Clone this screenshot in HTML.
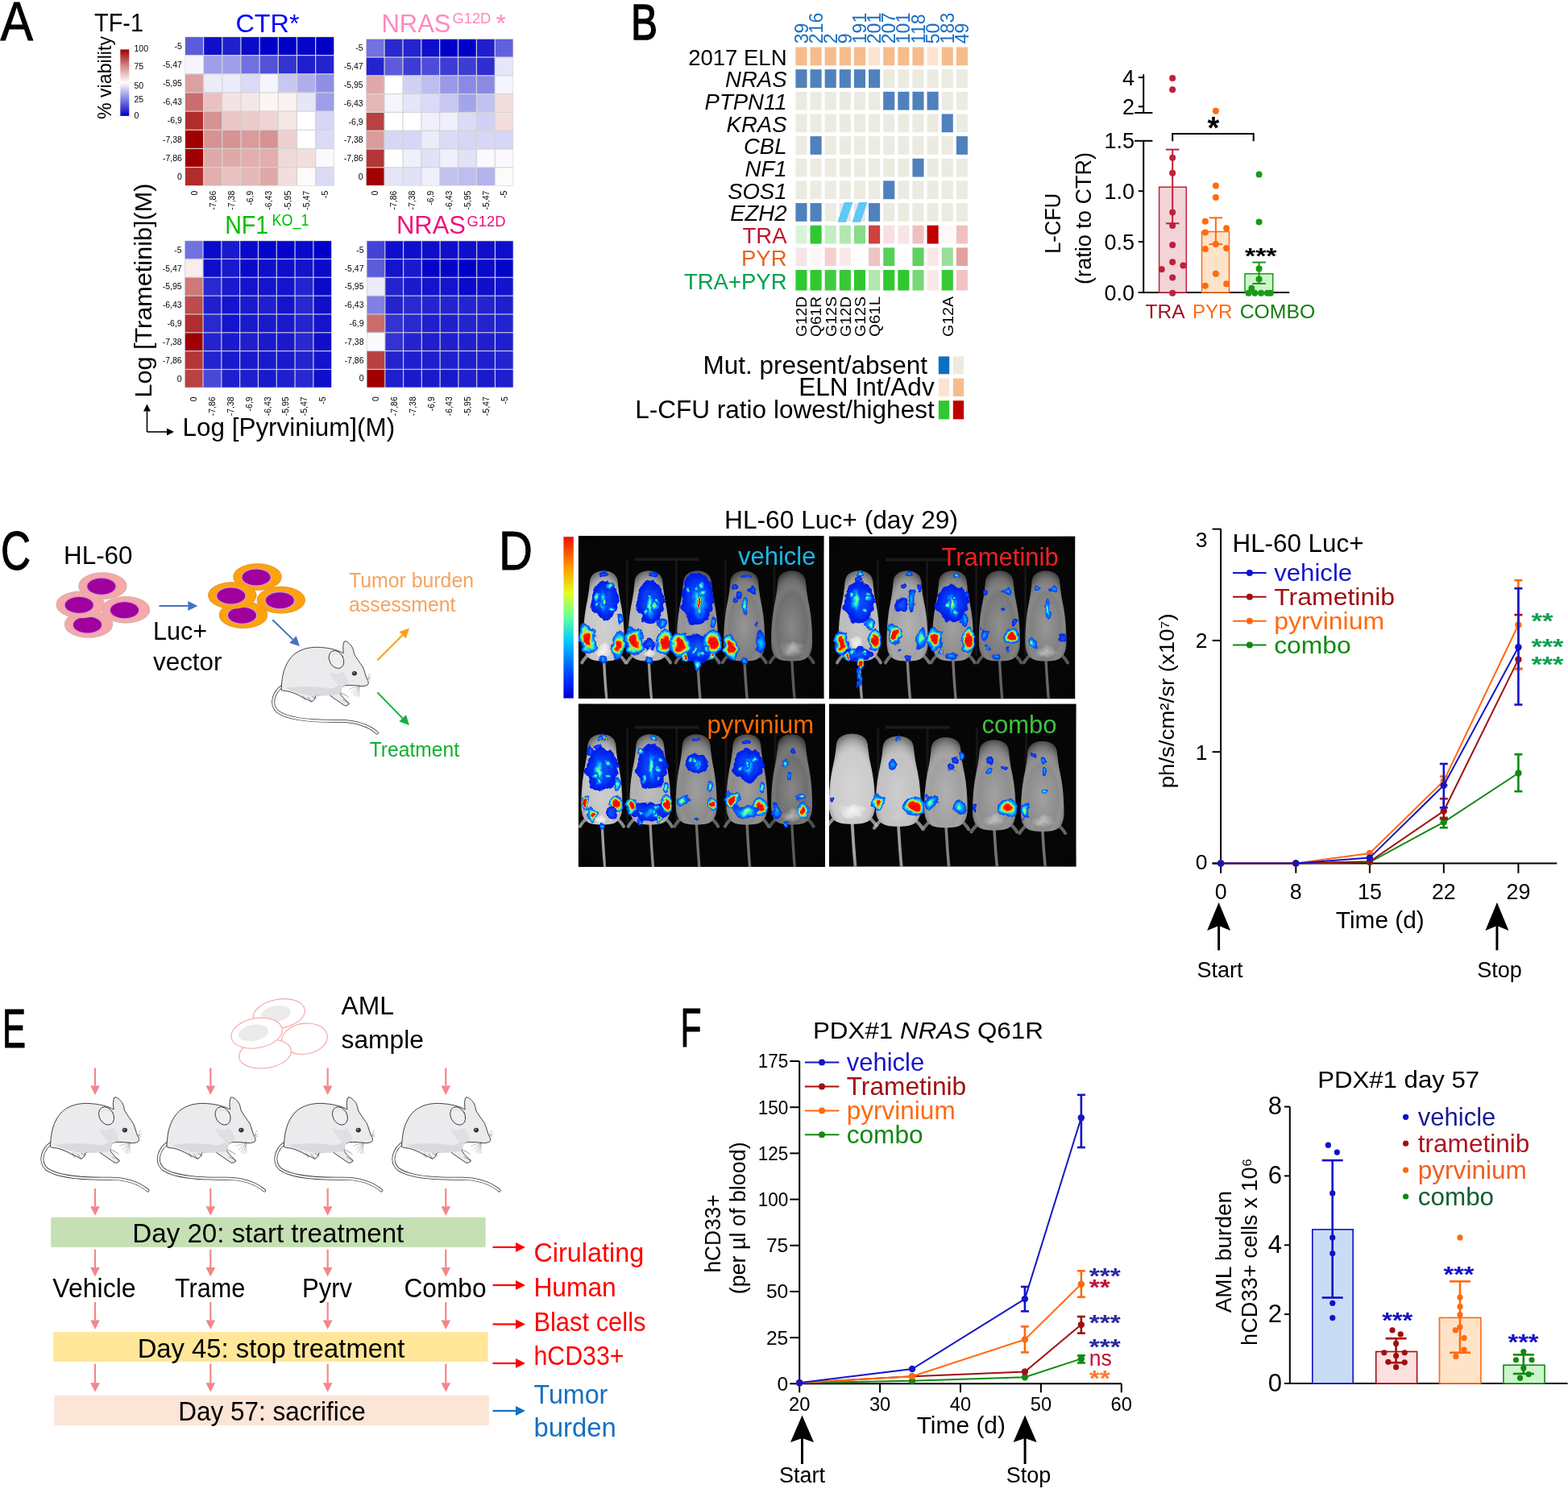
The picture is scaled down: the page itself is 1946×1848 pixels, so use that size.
<!DOCTYPE html>
<html><head><meta charset="utf-8"><title>Figure</title>
<style>html,body{margin:0;padding:0;background:#fff;width:1946px;height:1848px;overflow:hidden}
svg{display:block}</style></head>
<body>
<svg width="1946" height="1848" viewBox="0 0 1946 1848" font-family="'Liberation Sans', Arial, sans-serif">
<defs><linearGradient id="cbar" x1="0" y1="0" x2="0" y2="1">
<stop offset="0" stop-color="#a00000"/><stop offset="0.25" stop-color="#d48888"/>
<stop offset="0.5" stop-color="#ffffff"/><stop offset="0.75" stop-color="#8080e2"/>
<stop offset="1" stop-color="#0000c8"/></linearGradient>
<linearGradient id="jetbar" x1="0" y1="1" x2="0" y2="0">
<stop offset="0" stop-color="#0000d0"/><stop offset="0.12" stop-color="#0030ff"/>
<stop offset="0.35" stop-color="#00c8ff"/><stop offset="0.5" stop-color="#60ffa0"/>
<stop offset="0.65" stop-color="#e0ff20"/><stop offset="0.8" stop-color="#ffa000"/>
<stop offset="1" stop-color="#f01000"/></linearGradient>
<radialGradient id="jhot"><stop offset="0" stop-color="#ff0000"/><stop offset="0.32" stop-color="#ff2000"/>
<stop offset="0.45" stop-color="#ffd000"/><stop offset="0.6" stop-color="#60ffa0"/>
<stop offset="0.75" stop-color="#00b0ff"/><stop offset="1" stop-color="#0030ff"/></radialGradient>
<radialGradient id="jhot2"><stop offset="0" stop-color="#ff0000"/><stop offset="0.45" stop-color="#ff1000"/>
<stop offset="0.56" stop-color="#ffd000"/><stop offset="0.68" stop-color="#50ffb0"/>
<stop offset="0.8" stop-color="#00a0ff"/><stop offset="1" stop-color="#0028ff"/></radialGradient>
<radialGradient id="gbright"><stop offset="0" stop-color="#d0d0d0" stop-opacity="0.75"/><stop offset="1" stop-color="#d0d0d0" stop-opacity="0"/></radialGradient>
<radialGradient id="wpatch"><stop offset="0" stop-color="#fafafa" stop-opacity="0.9"/><stop offset="0.7" stop-color="#f0f0f0" stop-opacity="0.6"/><stop offset="1" stop-color="#f0f0f0" stop-opacity="0"/></radialGradient>
<radialGradient id="jmed"><stop offset="0" stop-color="#f0ff40"/><stop offset="0.25" stop-color="#40ffc0"/>
<stop offset="0.55" stop-color="#00a0ff"/><stop offset="1" stop-color="#0028ff"/></radialGradient>
<radialGradient id="jlow"><stop offset="0" stop-color="#00d0ff"/><stop offset="0.5" stop-color="#0070ff"/>
<stop offset="1" stop-color="#0020f8"/></radialGradient>
<radialGradient id="jblue"><stop offset="0" stop-color="#1060ff"/><stop offset="1" stop-color="#0018e8"/></radialGradient>
<radialGradient id="mshade" cx="0.5" cy="0.62" r="0.62"><stop offset="0" stop-color="#fff" stop-opacity="0.18"/>
<stop offset="0.6" stop-color="#fff" stop-opacity="0"/><stop offset="1" stop-color="#000" stop-opacity="0.45"/></radialGradient>
<filter id="rough" x="-30%" y="-30%" width="160%" height="160%"><feTurbulence type="fractalNoise" baseFrequency="0.1" numOctaves="2" seed="7"/>
<feDisplacementMap in="SourceGraphic" scale="9" xChannelSelector="R" yChannelSelector="G"/></filter>
<radialGradient id="panelvig" cx="0.5" cy="0.5" r="0.75"><stop offset="0.8" stop-color="#000" stop-opacity="0"/>
<stop offset="1" stop-color="#000" stop-opacity="0.6"/></radialGradient>
<clipPath id="pclip1"><rect x="717.9" y="665.1" width="304.6" height="201.9"/></clipPath>
<clipPath id="pclip2"><rect x="1029" y="665.7" width="305.2" height="201.5"/></clipPath>
<clipPath id="pclip3"><rect x="717.9" y="873.6" width="306.1" height="202.3"/></clipPath>
<clipPath id="pclip4"><rect x="1029" y="873.7" width="306.5" height="201.8"/></clipPath></defs>
<text x="0.5" y="49.8" font-size="68.5" textLength="40.5" lengthAdjust="spacingAndGlyphs" stroke="#000" stroke-width="1">A</text>
<text x="117" y="38.5" font-size="31" textLength="61" lengthAdjust="spacingAndGlyphs">TF-1</text>
<text transform="translate(137.5,148) rotate(-90)" x="0" y="0" font-size="24.5" textLength="103" lengthAdjust="spacingAndGlyphs">% viability</text>
<rect x="149.3" y="61.4" width="11" height="82.5" fill="url(#cbar)"/>
<line x1="146" y1="60.6" x2="148.5" y2="60.6" stroke="#ddd" stroke-width="0.8" />
<line x1="161" y1="60.6" x2="163.5" y2="60.6" stroke="#ddd" stroke-width="0.8" />
<line x1="146" y1="81.7" x2="148.5" y2="81.7" stroke="#ddd" stroke-width="0.8" />
<line x1="161" y1="81.7" x2="163.5" y2="81.7" stroke="#ddd" stroke-width="0.8" />
<line x1="146" y1="102.5" x2="148.5" y2="102.5" stroke="#ddd" stroke-width="0.8" />
<line x1="161" y1="102.5" x2="163.5" y2="102.5" stroke="#ddd" stroke-width="0.8" />
<line x1="146" y1="123.3" x2="148.5" y2="123.3" stroke="#ddd" stroke-width="0.8" />
<line x1="161" y1="123.3" x2="163.5" y2="123.3" stroke="#ddd" stroke-width="0.8" />
<line x1="146" y1="144.4" x2="148.5" y2="144.4" stroke="#ddd" stroke-width="0.8" />
<line x1="161" y1="144.4" x2="163.5" y2="144.4" stroke="#ddd" stroke-width="0.8" />
<text x="166.5" y="64.4" font-size="10.5">100</text>
<text x="166.5" y="86" font-size="10.5">75</text>
<text x="166.5" y="109.7" font-size="10.5">50</text>
<text x="166.5" y="127.1" font-size="10.5">25</text>
<text x="166.5" y="147.2" font-size="10.5">0</text>
<rect x="229.4" y="45.5" width="185.4" height="185.2" fill="#d4d4d4"/>
<rect x="230" y="46.1" width="21.98" height="21.95" fill="#5c5cdb"/>
<rect x="253.18" y="46.1" width="21.98" height="21.95" fill="#0f0fcb"/>
<rect x="276.35" y="46.1" width="21.98" height="21.95" fill="#1f1fce"/>
<rect x="299.53" y="46.1" width="21.98" height="21.95" fill="#0a0aca"/>
<rect x="322.7" y="46.1" width="21.98" height="21.95" fill="#0000c8"/>
<rect x="345.88" y="46.1" width="21.98" height="21.95" fill="#0000c8"/>
<rect x="369.05" y="46.1" width="21.98" height="21.95" fill="#0505c9"/>
<rect x="392.23" y="46.1" width="21.98" height="21.95" fill="#0000c8"/>
<rect x="230" y="69.25" width="21.98" height="21.95" fill="#f5f5fd"/>
<rect x="253.18" y="69.25" width="21.98" height="21.95" fill="#9e9ee9"/>
<rect x="276.35" y="69.25" width="21.98" height="21.95" fill="#9e9ee9"/>
<rect x="299.53" y="69.25" width="21.98" height="21.95" fill="#7171df"/>
<rect x="322.7" y="69.25" width="21.98" height="21.95" fill="#5252d9"/>
<rect x="345.88" y="69.25" width="21.98" height="21.95" fill="#3333d2"/>
<rect x="369.05" y="69.25" width="21.98" height="21.95" fill="#1f1fce"/>
<rect x="392.23" y="69.25" width="21.98" height="21.95" fill="#2424cf"/>
<rect x="230" y="92.4" width="21.98" height="21.95" fill="#dda0a0"/>
<rect x="253.18" y="92.4" width="21.98" height="21.95" fill="#ebebfa"/>
<rect x="276.35" y="92.4" width="21.98" height="21.95" fill="#ebebfa"/>
<rect x="299.53" y="92.4" width="21.98" height="21.95" fill="#dbdbf7"/>
<rect x="322.7" y="92.4" width="21.98" height="21.95" fill="#f5f5fd"/>
<rect x="345.88" y="92.4" width="21.98" height="21.95" fill="#c7c7f2"/>
<rect x="369.05" y="92.4" width="21.98" height="21.95" fill="#aeaeec"/>
<rect x="392.23" y="92.4" width="21.98" height="21.95" fill="#8f8fe5"/>
<rect x="230" y="115.55" width="21.98" height="21.95" fill="#ca6d6d"/>
<rect x="253.18" y="115.55" width="21.98" height="21.95" fill="#e9c1c1"/>
<rect x="276.35" y="115.55" width="21.98" height="21.95" fill="#f5e2e2"/>
<rect x="299.53" y="115.55" width="21.98" height="21.95" fill="#f6e7e7"/>
<rect x="322.7" y="115.55" width="21.98" height="21.95" fill="#fcf5f5"/>
<rect x="345.88" y="115.55" width="21.98" height="21.95" fill="#faf1f1"/>
<rect x="369.05" y="115.55" width="21.98" height="21.95" fill="#e6e6f9"/>
<rect x="392.23" y="115.55" width="21.98" height="21.95" fill="#9e9ee9"/>
<rect x="230" y="138.7" width="21.98" height="21.95" fill="#b12c2c"/>
<rect x="253.18" y="138.7" width="21.98" height="21.95" fill="#d79292"/>
<rect x="276.35" y="138.7" width="21.98" height="21.95" fill="#eac6c6"/>
<rect x="299.53" y="138.7" width="21.98" height="21.95" fill="#eccbcb"/>
<rect x="322.7" y="138.7" width="21.98" height="21.95" fill="#f0d4d4"/>
<rect x="345.88" y="138.7" width="21.98" height="21.95" fill="#f6e7e7"/>
<rect x="369.05" y="138.7" width="21.98" height="21.95" fill="#ffffff"/>
<rect x="392.23" y="138.7" width="21.98" height="21.95" fill="#d6d6f6"/>
<rect x="230" y="161.85" width="21.98" height="21.95" fill="#a00000"/>
<rect x="253.18" y="161.85" width="21.98" height="21.95" fill="#d79292"/>
<rect x="276.35" y="161.85" width="21.98" height="21.95" fill="#d79292"/>
<rect x="299.53" y="161.85" width="21.98" height="21.95" fill="#db9b9b"/>
<rect x="322.7" y="161.85" width="21.98" height="21.95" fill="#d79292"/>
<rect x="345.88" y="161.85" width="21.98" height="21.95" fill="#eecfcf"/>
<rect x="369.05" y="161.85" width="21.98" height="21.95" fill="#ffffff"/>
<rect x="392.23" y="161.85" width="21.98" height="21.95" fill="#dbdbf7"/>
<rect x="230" y="185" width="21.98" height="21.95" fill="#a00000"/>
<rect x="253.18" y="185" width="21.98" height="21.95" fill="#e0a9a9"/>
<rect x="276.35" y="185" width="21.98" height="21.95" fill="#e0a9a9"/>
<rect x="299.53" y="185" width="21.98" height="21.95" fill="#e2aeae"/>
<rect x="322.7" y="185" width="21.98" height="21.95" fill="#e2aeae"/>
<rect x="345.88" y="185" width="21.98" height="21.95" fill="#f1d9d9"/>
<rect x="369.05" y="185" width="21.98" height="21.95" fill="#f3dede"/>
<rect x="392.23" y="185" width="21.98" height="21.95" fill="#fafafe"/>
<rect x="230" y="208.15" width="21.98" height="21.95" fill="#b12c2c"/>
<rect x="253.18" y="208.15" width="21.98" height="21.95" fill="#e2aeae"/>
<rect x="276.35" y="208.15" width="21.98" height="21.95" fill="#e9c1c1"/>
<rect x="299.53" y="208.15" width="21.98" height="21.95" fill="#e5b8b8"/>
<rect x="322.7" y="208.15" width="21.98" height="21.95" fill="#e0a9a9"/>
<rect x="345.88" y="208.15" width="21.98" height="21.95" fill="#f3dede"/>
<rect x="369.05" y="208.15" width="21.98" height="21.95" fill="#fdfafa"/>
<rect x="392.23" y="208.15" width="21.98" height="21.95" fill="#dbdbf7"/>
<text x="225.9" y="60.78" font-size="10.5" text-anchor="end">-5</text>
<text x="225.9" y="83.93" font-size="10.5" text-anchor="end">-5,47</text>
<text x="225.9" y="107.08" font-size="10.5" text-anchor="end">-5,95</text>
<text x="225.9" y="130.22" font-size="10.5" text-anchor="end">-6,43</text>
<text x="225.9" y="153.37" font-size="10.5" text-anchor="end">-6,9</text>
<text x="225.9" y="176.52" font-size="10.5" text-anchor="end">-7,38</text>
<text x="225.9" y="199.67" font-size="10.5" text-anchor="end">-7,86</text>
<text x="225.9" y="222.82" font-size="10.5" text-anchor="end">0</text>
<text transform="translate(244.79,236.7) rotate(-90)" x="0" y="0" font-size="10.5" text-anchor="end">0</text>
<text transform="translate(267.96,236.7) rotate(-90)" x="0" y="0" font-size="10.5" text-anchor="end">-7,86</text>
<text transform="translate(291.14,236.7) rotate(-90)" x="0" y="0" font-size="10.5" text-anchor="end">-7,38</text>
<text transform="translate(314.31,236.7) rotate(-90)" x="0" y="0" font-size="10.5" text-anchor="end">-6,9</text>
<text transform="translate(337.49,236.7) rotate(-90)" x="0" y="0" font-size="10.5" text-anchor="end">-6,43</text>
<text transform="translate(360.66,236.7) rotate(-90)" x="0" y="0" font-size="10.5" text-anchor="end">-5,95</text>
<text transform="translate(383.84,236.7) rotate(-90)" x="0" y="0" font-size="10.5" text-anchor="end">-5,47</text>
<text transform="translate(407.01,236.7) rotate(-90)" x="0" y="0" font-size="10.5" text-anchor="end">-5</text>
<rect x="454.2" y="48.2" width="182.9" height="182.4" fill="#d4d4d4"/>
<rect x="454.8" y="48.8" width="21.66" height="21.6" fill="#7171df"/>
<rect x="477.66" y="48.8" width="21.66" height="21.6" fill="#2929d0"/>
<rect x="500.53" y="48.8" width="21.66" height="21.6" fill="#2424cf"/>
<rect x="523.39" y="48.8" width="21.66" height="21.6" fill="#0f0fcb"/>
<rect x="546.25" y="48.8" width="21.66" height="21.6" fill="#0000c8"/>
<rect x="569.11" y="48.8" width="21.66" height="21.6" fill="#0000c8"/>
<rect x="591.98" y="48.8" width="21.66" height="21.6" fill="#1f1fce"/>
<rect x="614.84" y="48.8" width="21.66" height="21.6" fill="#6161dc"/>
<rect x="454.8" y="71.6" width="21.66" height="21.6" fill="#2424cf"/>
<rect x="477.66" y="71.6" width="21.66" height="21.6" fill="#5c5cdb"/>
<rect x="500.53" y="71.6" width="21.66" height="21.6" fill="#3d3dd4"/>
<rect x="523.39" y="71.6" width="21.66" height="21.6" fill="#4d4dd8"/>
<rect x="546.25" y="71.6" width="21.66" height="21.6" fill="#3d3dd4"/>
<rect x="569.11" y="71.6" width="21.66" height="21.6" fill="#3d3dd4"/>
<rect x="591.98" y="71.6" width="21.66" height="21.6" fill="#2e2ed1"/>
<rect x="614.84" y="71.6" width="21.66" height="21.6" fill="#e6e6f9"/>
<rect x="454.8" y="94.4" width="21.66" height="21.6" fill="#e0a9a9"/>
<rect x="477.66" y="94.4" width="21.66" height="21.6" fill="#ffffff"/>
<rect x="500.53" y="94.4" width="21.66" height="21.6" fill="#d1d1f5"/>
<rect x="523.39" y="94.4" width="21.66" height="21.6" fill="#bdbdf0"/>
<rect x="546.25" y="94.4" width="21.66" height="21.6" fill="#9999e8"/>
<rect x="569.11" y="94.4" width="21.66" height="21.6" fill="#8a8ae4"/>
<rect x="591.98" y="94.4" width="21.66" height="21.6" fill="#8a8ae4"/>
<rect x="614.84" y="94.4" width="21.66" height="21.6" fill="#f5f5fd"/>
<rect x="454.8" y="117.2" width="21.66" height="21.6" fill="#e5b8b8"/>
<rect x="477.66" y="117.2" width="21.66" height="21.6" fill="#f5f5fd"/>
<rect x="500.53" y="117.2" width="21.66" height="21.6" fill="#e6e6f9"/>
<rect x="523.39" y="117.2" width="21.66" height="21.6" fill="#dbdbf7"/>
<rect x="546.25" y="117.2" width="21.66" height="21.6" fill="#c7c7f2"/>
<rect x="569.11" y="117.2" width="21.66" height="21.6" fill="#a4a4ea"/>
<rect x="591.98" y="117.2" width="21.66" height="21.6" fill="#c2c2f1"/>
<rect x="614.84" y="117.2" width="21.66" height="21.6" fill="#f3dede"/>
<rect x="454.8" y="140" width="21.66" height="21.6" fill="#b94141"/>
<rect x="477.66" y="140" width="21.66" height="21.6" fill="#ffffff"/>
<rect x="500.53" y="140" width="21.66" height="21.6" fill="#ffffff"/>
<rect x="523.39" y="140" width="21.66" height="21.6" fill="#f0f0fc"/>
<rect x="546.25" y="140" width="21.66" height="21.6" fill="#f0f0fc"/>
<rect x="569.11" y="140" width="21.66" height="21.6" fill="#dbdbf7"/>
<rect x="591.98" y="140" width="21.66" height="21.6" fill="#d1d1f5"/>
<rect x="614.84" y="140" width="21.66" height="21.6" fill="#f3dede"/>
<rect x="454.8" y="162.8" width="21.66" height="21.6" fill="#db9b9b"/>
<rect x="477.66" y="162.8" width="21.66" height="21.6" fill="#d6d6f6"/>
<rect x="500.53" y="162.8" width="21.66" height="21.6" fill="#d6d6f6"/>
<rect x="523.39" y="162.8" width="21.66" height="21.6" fill="#ebebfa"/>
<rect x="546.25" y="162.8" width="21.66" height="21.6" fill="#dbdbf7"/>
<rect x="569.11" y="162.8" width="21.66" height="21.6" fill="#d6d6f6"/>
<rect x="591.98" y="162.8" width="21.66" height="21.6" fill="#d6d6f6"/>
<rect x="614.84" y="162.8" width="21.66" height="21.6" fill="#d6d6f6"/>
<rect x="454.8" y="185.6" width="21.66" height="21.6" fill="#b53636"/>
<rect x="477.66" y="185.6" width="21.66" height="21.6" fill="#ffffff"/>
<rect x="500.53" y="185.6" width="21.66" height="21.6" fill="#f0f0fc"/>
<rect x="523.39" y="185.6" width="21.66" height="21.6" fill="#e1e1f8"/>
<rect x="546.25" y="185.6" width="21.66" height="21.6" fill="#f0f0fc"/>
<rect x="569.11" y="185.6" width="21.66" height="21.6" fill="#e1e1f8"/>
<rect x="591.98" y="185.6" width="21.66" height="21.6" fill="#fafafe"/>
<rect x="614.84" y="185.6" width="21.66" height="21.6" fill="#fafafe"/>
<rect x="454.8" y="208.4" width="21.66" height="21.6" fill="#a00000"/>
<rect x="477.66" y="208.4" width="21.66" height="21.6" fill="#e6e6f9"/>
<rect x="500.53" y="208.4" width="21.66" height="21.6" fill="#e1e1f8"/>
<rect x="523.39" y="208.4" width="21.66" height="21.6" fill="#f0f0fc"/>
<rect x="546.25" y="208.4" width="21.66" height="21.6" fill="#c2c2f1"/>
<rect x="569.11" y="208.4" width="21.66" height="21.6" fill="#bdbdf0"/>
<rect x="591.98" y="208.4" width="21.66" height="21.6" fill="#b3b3ee"/>
<rect x="614.84" y="208.4" width="21.66" height="21.6" fill="#fdfafa"/>
<text x="450.7" y="63.3" font-size="10.5" text-anchor="end">-5</text>
<text x="450.7" y="86.1" font-size="10.5" text-anchor="end">-5,47</text>
<text x="450.7" y="108.9" font-size="10.5" text-anchor="end">-5,95</text>
<text x="450.7" y="131.7" font-size="10.5" text-anchor="end">-6,43</text>
<text x="450.7" y="154.5" font-size="10.5" text-anchor="end">-6,9</text>
<text x="450.7" y="177.3" font-size="10.5" text-anchor="end">-7,38</text>
<text x="450.7" y="200.1" font-size="10.5" text-anchor="end">-7,86</text>
<text x="450.7" y="222.9" font-size="10.5" text-anchor="end">0</text>
<text transform="translate(469.43,236.6) rotate(-90)" x="0" y="0" font-size="10.5" text-anchor="end">0</text>
<text transform="translate(492.29,236.6) rotate(-90)" x="0" y="0" font-size="10.5" text-anchor="end">-7,86</text>
<text transform="translate(515.16,236.6) rotate(-90)" x="0" y="0" font-size="10.5" text-anchor="end">-7,38</text>
<text transform="translate(538.02,236.6) rotate(-90)" x="0" y="0" font-size="10.5" text-anchor="end">-6,9</text>
<text transform="translate(560.88,236.6) rotate(-90)" x="0" y="0" font-size="10.5" text-anchor="end">-6,43</text>
<text transform="translate(583.74,236.6) rotate(-90)" x="0" y="0" font-size="10.5" text-anchor="end">-5,95</text>
<text transform="translate(606.61,236.6) rotate(-90)" x="0" y="0" font-size="10.5" text-anchor="end">-5,47</text>
<text transform="translate(629.47,236.6) rotate(-90)" x="0" y="0" font-size="10.5" text-anchor="end">-5</text>
<rect x="229.2" y="298.6" width="182.5" height="182.7" fill="#c8c8dc"/>
<rect x="229.8" y="299.2" width="21.61" height="21.64" fill="#7171df"/>
<rect x="252.61" y="299.2" width="21.61" height="21.64" fill="#0a0aca"/>
<rect x="275.43" y="299.2" width="21.61" height="21.64" fill="#1a1acd"/>
<rect x="298.24" y="299.2" width="21.61" height="21.64" fill="#0a0aca"/>
<rect x="321.05" y="299.2" width="21.61" height="21.64" fill="#0505c9"/>
<rect x="343.86" y="299.2" width="21.61" height="21.64" fill="#0505c9"/>
<rect x="366.68" y="299.2" width="21.61" height="21.64" fill="#0a0aca"/>
<rect x="389.49" y="299.2" width="21.61" height="21.64" fill="#0000c8"/>
<rect x="229.8" y="322.04" width="21.61" height="21.64" fill="#f8ecec"/>
<rect x="252.61" y="322.04" width="21.61" height="21.64" fill="#0f0fcb"/>
<rect x="275.43" y="322.04" width="21.61" height="21.64" fill="#1a1acd"/>
<rect x="298.24" y="322.04" width="21.61" height="21.64" fill="#0a0aca"/>
<rect x="321.05" y="322.04" width="21.61" height="21.64" fill="#0f0fcb"/>
<rect x="343.86" y="322.04" width="21.61" height="21.64" fill="#0f0fcb"/>
<rect x="366.68" y="322.04" width="21.61" height="21.64" fill="#1414cc"/>
<rect x="389.49" y="322.04" width="21.61" height="21.64" fill="#0a0aca"/>
<rect x="229.8" y="344.88" width="21.61" height="21.64" fill="#ce7878"/>
<rect x="252.61" y="344.88" width="21.61" height="21.64" fill="#2929d0"/>
<rect x="275.43" y="344.88" width="21.61" height="21.64" fill="#1a1acd"/>
<rect x="298.24" y="344.88" width="21.61" height="21.64" fill="#1414cc"/>
<rect x="321.05" y="344.88" width="21.61" height="21.64" fill="#1414cc"/>
<rect x="343.86" y="344.88" width="21.61" height="21.64" fill="#1414cc"/>
<rect x="366.68" y="344.88" width="21.61" height="21.64" fill="#2424cf"/>
<rect x="389.49" y="344.88" width="21.61" height="21.64" fill="#0a0aca"/>
<rect x="229.8" y="367.71" width="21.61" height="21.64" fill="#bd4c4c"/>
<rect x="252.61" y="367.71" width="21.61" height="21.64" fill="#1f1fce"/>
<rect x="275.43" y="367.71" width="21.61" height="21.64" fill="#1414cc"/>
<rect x="298.24" y="367.71" width="21.61" height="21.64" fill="#1a1acd"/>
<rect x="321.05" y="367.71" width="21.61" height="21.64" fill="#1f1fce"/>
<rect x="343.86" y="367.71" width="21.61" height="21.64" fill="#1414cc"/>
<rect x="366.68" y="367.71" width="21.61" height="21.64" fill="#2929d0"/>
<rect x="389.49" y="367.71" width="21.61" height="21.64" fill="#0f0fcb"/>
<rect x="229.8" y="390.55" width="21.61" height="21.64" fill="#b12c2c"/>
<rect x="252.61" y="390.55" width="21.61" height="21.64" fill="#2929d0"/>
<rect x="275.43" y="390.55" width="21.61" height="21.64" fill="#1414cc"/>
<rect x="298.24" y="390.55" width="21.61" height="21.64" fill="#1a1acd"/>
<rect x="321.05" y="390.55" width="21.61" height="21.64" fill="#1a1acd"/>
<rect x="343.86" y="390.55" width="21.61" height="21.64" fill="#1a1acd"/>
<rect x="366.68" y="390.55" width="21.61" height="21.64" fill="#2424cf"/>
<rect x="389.49" y="390.55" width="21.61" height="21.64" fill="#1414cc"/>
<rect x="229.8" y="413.39" width="21.61" height="21.64" fill="#a00000"/>
<rect x="252.61" y="413.39" width="21.61" height="21.64" fill="#2424cf"/>
<rect x="275.43" y="413.39" width="21.61" height="21.64" fill="#1a1acd"/>
<rect x="298.24" y="413.39" width="21.61" height="21.64" fill="#1f1fce"/>
<rect x="321.05" y="413.39" width="21.61" height="21.64" fill="#1a1acd"/>
<rect x="343.86" y="413.39" width="21.61" height="21.64" fill="#1a1acd"/>
<rect x="366.68" y="413.39" width="21.61" height="21.64" fill="#2929d0"/>
<rect x="389.49" y="413.39" width="21.61" height="21.64" fill="#0f0fcb"/>
<rect x="229.8" y="436.23" width="21.61" height="21.64" fill="#b53636"/>
<rect x="252.61" y="436.23" width="21.61" height="21.64" fill="#2424cf"/>
<rect x="275.43" y="436.23" width="21.61" height="21.64" fill="#1a1acd"/>
<rect x="298.24" y="436.23" width="21.61" height="21.64" fill="#1a1acd"/>
<rect x="321.05" y="436.23" width="21.61" height="21.64" fill="#1a1acd"/>
<rect x="343.86" y="436.23" width="21.61" height="21.64" fill="#1a1acd"/>
<rect x="366.68" y="436.23" width="21.61" height="21.64" fill="#2424cf"/>
<rect x="389.49" y="436.23" width="21.61" height="21.64" fill="#1414cc"/>
<rect x="229.8" y="459.06" width="21.61" height="21.64" fill="#b94141"/>
<rect x="252.61" y="459.06" width="21.61" height="21.64" fill="#4848d7"/>
<rect x="275.43" y="459.06" width="21.61" height="21.64" fill="#1f1fce"/>
<rect x="298.24" y="459.06" width="21.61" height="21.64" fill="#1f1fce"/>
<rect x="321.05" y="459.06" width="21.61" height="21.64" fill="#1a1acd"/>
<rect x="343.86" y="459.06" width="21.61" height="21.64" fill="#1f1fce"/>
<rect x="366.68" y="459.06" width="21.61" height="21.64" fill="#2929d0"/>
<rect x="389.49" y="459.06" width="21.61" height="21.64" fill="#0f0fcb"/>
<text x="225.7" y="313.72" font-size="10.5" text-anchor="end">-5</text>
<text x="225.7" y="336.56" font-size="10.5" text-anchor="end">-5,47</text>
<text x="225.7" y="359.39" font-size="10.5" text-anchor="end">-5,95</text>
<text x="225.7" y="382.23" font-size="10.5" text-anchor="end">-6,43</text>
<text x="225.7" y="405.07" font-size="10.5" text-anchor="end">-6,9</text>
<text x="225.7" y="427.91" font-size="10.5" text-anchor="end">-7,38</text>
<text x="225.7" y="450.74" font-size="10.5" text-anchor="end">-7,86</text>
<text x="225.7" y="473.58" font-size="10.5" text-anchor="end">0</text>
<text transform="translate(244.41,492.3) rotate(-90)" x="0" y="0" font-size="10.5" text-anchor="end">0</text>
<text transform="translate(267.22,492.3) rotate(-90)" x="0" y="0" font-size="10.5" text-anchor="end">-7,86</text>
<text transform="translate(290.03,492.3) rotate(-90)" x="0" y="0" font-size="10.5" text-anchor="end">-7,38</text>
<text transform="translate(312.84,492.3) rotate(-90)" x="0" y="0" font-size="10.5" text-anchor="end">-6,9</text>
<text transform="translate(335.66,492.3) rotate(-90)" x="0" y="0" font-size="10.5" text-anchor="end">-6,43</text>
<text transform="translate(358.47,492.3) rotate(-90)" x="0" y="0" font-size="10.5" text-anchor="end">-5,95</text>
<text transform="translate(381.28,492.3) rotate(-90)" x="0" y="0" font-size="10.5" text-anchor="end">-5,47</text>
<text transform="translate(404.09,492.3) rotate(-90)" x="0" y="0" font-size="10.5" text-anchor="end">-5</text>
<rect x="455" y="298.7" width="182.2" height="182.5" fill="#c8c8dc"/>
<rect x="455.6" y="299.3" width="21.58" height="21.61" fill="#4343d6"/>
<rect x="478.38" y="299.3" width="21.58" height="21.61" fill="#0f0fcb"/>
<rect x="501.15" y="299.3" width="21.58" height="21.61" fill="#0f0fcb"/>
<rect x="523.93" y="299.3" width="21.58" height="21.61" fill="#0f0fcb"/>
<rect x="546.7" y="299.3" width="21.58" height="21.61" fill="#0f0fcb"/>
<rect x="569.48" y="299.3" width="21.58" height="21.61" fill="#0f0fcb"/>
<rect x="592.25" y="299.3" width="21.58" height="21.61" fill="#0f0fcb"/>
<rect x="615.03" y="299.3" width="21.58" height="21.61" fill="#0f0fcb"/>
<rect x="455.6" y="322.11" width="21.58" height="21.61" fill="#5c5cdb"/>
<rect x="478.38" y="322.11" width="21.58" height="21.61" fill="#1414cc"/>
<rect x="501.15" y="322.11" width="21.58" height="21.61" fill="#1a1acd"/>
<rect x="523.93" y="322.11" width="21.58" height="21.61" fill="#0505c9"/>
<rect x="546.7" y="322.11" width="21.58" height="21.61" fill="#0505c9"/>
<rect x="569.48" y="322.11" width="21.58" height="21.61" fill="#0000c8"/>
<rect x="592.25" y="322.11" width="21.58" height="21.61" fill="#0a0aca"/>
<rect x="615.03" y="322.11" width="21.58" height="21.61" fill="#0505c9"/>
<rect x="455.6" y="344.93" width="21.58" height="21.61" fill="#ebebfa"/>
<rect x="478.38" y="344.93" width="21.58" height="21.61" fill="#2424cf"/>
<rect x="501.15" y="344.93" width="21.58" height="21.61" fill="#1a1acd"/>
<rect x="523.93" y="344.93" width="21.58" height="21.61" fill="#1414cc"/>
<rect x="546.7" y="344.93" width="21.58" height="21.61" fill="#1414cc"/>
<rect x="569.48" y="344.93" width="21.58" height="21.61" fill="#0a0aca"/>
<rect x="592.25" y="344.93" width="21.58" height="21.61" fill="#0f0fcb"/>
<rect x="615.03" y="344.93" width="21.58" height="21.61" fill="#1414cc"/>
<rect x="455.6" y="367.74" width="21.58" height="21.61" fill="#8080e2"/>
<rect x="478.38" y="367.74" width="21.58" height="21.61" fill="#2424cf"/>
<rect x="501.15" y="367.74" width="21.58" height="21.61" fill="#2929d0"/>
<rect x="523.93" y="367.74" width="21.58" height="21.61" fill="#2424cf"/>
<rect x="546.7" y="367.74" width="21.58" height="21.61" fill="#2424cf"/>
<rect x="569.48" y="367.74" width="21.58" height="21.61" fill="#2424cf"/>
<rect x="592.25" y="367.74" width="21.58" height="21.61" fill="#2424cf"/>
<rect x="615.03" y="367.74" width="21.58" height="21.61" fill="#1f1fce"/>
<rect x="455.6" y="390.55" width="21.58" height="21.61" fill="#ca6d6d"/>
<rect x="478.38" y="390.55" width="21.58" height="21.61" fill="#3333d2"/>
<rect x="501.15" y="390.55" width="21.58" height="21.61" fill="#2929d0"/>
<rect x="523.93" y="390.55" width="21.58" height="21.61" fill="#1f1fce"/>
<rect x="546.7" y="390.55" width="21.58" height="21.61" fill="#1f1fce"/>
<rect x="569.48" y="390.55" width="21.58" height="21.61" fill="#2424cf"/>
<rect x="592.25" y="390.55" width="21.58" height="21.61" fill="#2424cf"/>
<rect x="615.03" y="390.55" width="21.58" height="21.61" fill="#2424cf"/>
<rect x="455.6" y="413.36" width="21.58" height="21.61" fill="#fafafe"/>
<rect x="478.38" y="413.36" width="21.58" height="21.61" fill="#3333d2"/>
<rect x="501.15" y="413.36" width="21.58" height="21.61" fill="#2424cf"/>
<rect x="523.93" y="413.36" width="21.58" height="21.61" fill="#1f1fce"/>
<rect x="546.7" y="413.36" width="21.58" height="21.61" fill="#1f1fce"/>
<rect x="569.48" y="413.36" width="21.58" height="21.61" fill="#1f1fce"/>
<rect x="592.25" y="413.36" width="21.58" height="21.61" fill="#1f1fce"/>
<rect x="615.03" y="413.36" width="21.58" height="21.61" fill="#1f1fce"/>
<rect x="455.6" y="436.18" width="21.58" height="21.61" fill="#b94141"/>
<rect x="478.38" y="436.18" width="21.58" height="21.61" fill="#2424cf"/>
<rect x="501.15" y="436.18" width="21.58" height="21.61" fill="#1f1fce"/>
<rect x="523.93" y="436.18" width="21.58" height="21.61" fill="#1f1fce"/>
<rect x="546.7" y="436.18" width="21.58" height="21.61" fill="#1f1fce"/>
<rect x="569.48" y="436.18" width="21.58" height="21.61" fill="#1f1fce"/>
<rect x="592.25" y="436.18" width="21.58" height="21.61" fill="#1f1fce"/>
<rect x="615.03" y="436.18" width="21.58" height="21.61" fill="#2424cf"/>
<rect x="455.6" y="458.99" width="21.58" height="21.61" fill="#a00000"/>
<rect x="478.38" y="458.99" width="21.58" height="21.61" fill="#1f1fce"/>
<rect x="501.15" y="458.99" width="21.58" height="21.61" fill="#1a1acd"/>
<rect x="523.93" y="458.99" width="21.58" height="21.61" fill="#1a1acd"/>
<rect x="546.7" y="458.99" width="21.58" height="21.61" fill="#1a1acd"/>
<rect x="569.48" y="458.99" width="21.58" height="21.61" fill="#1f1fce"/>
<rect x="592.25" y="458.99" width="21.58" height="21.61" fill="#1a1acd"/>
<rect x="615.03" y="458.99" width="21.58" height="21.61" fill="#1f1fce"/>
<text x="451.5" y="313.81" font-size="10.5" text-anchor="end">-5</text>
<text x="451.5" y="336.62" font-size="10.5" text-anchor="end">-5,47</text>
<text x="451.5" y="359.43" font-size="10.5" text-anchor="end">-5,95</text>
<text x="451.5" y="382.24" font-size="10.5" text-anchor="end">-6,43</text>
<text x="451.5" y="405.06" font-size="10.5" text-anchor="end">-6,9</text>
<text x="451.5" y="427.87" font-size="10.5" text-anchor="end">-7,38</text>
<text x="451.5" y="450.68" font-size="10.5" text-anchor="end">-7,86</text>
<text x="451.5" y="473.49" font-size="10.5" text-anchor="end">0</text>
<text transform="translate(470.19,492.2) rotate(-90)" x="0" y="0" font-size="10.5" text-anchor="end">0</text>
<text transform="translate(492.96,492.2) rotate(-90)" x="0" y="0" font-size="10.5" text-anchor="end">-7,86</text>
<text transform="translate(515.74,492.2) rotate(-90)" x="0" y="0" font-size="10.5" text-anchor="end">-7,38</text>
<text transform="translate(538.51,492.2) rotate(-90)" x="0" y="0" font-size="10.5" text-anchor="end">-6,9</text>
<text transform="translate(561.29,492.2) rotate(-90)" x="0" y="0" font-size="10.5" text-anchor="end">-6,43</text>
<text transform="translate(584.06,492.2) rotate(-90)" x="0" y="0" font-size="10.5" text-anchor="end">-5,95</text>
<text transform="translate(606.84,492.2) rotate(-90)" x="0" y="0" font-size="10.5" text-anchor="end">-5,47</text>
<text transform="translate(629.61,492.2) rotate(-90)" x="0" y="0" font-size="10.5" text-anchor="end">-5</text>
<text x="292.5" y="39.9" font-size="32" fill="#0000ff" textLength="79" lengthAdjust="spacingAndGlyphs">CTR*</text>
<text x="473.5" y="40.2" font-size="32" fill="#ff88c0" textLength="86" lengthAdjust="spacingAndGlyphs">NRAS</text>
<text x="561.4" y="28.8" font-size="18" fill="#ff88c0" textLength="48" lengthAdjust="spacingAndGlyphs">G12D</text>
<text x="615.5" y="40.2" font-size="32" fill="#ff88c0">*</text>
<text x="279.2" y="290.3" font-size="32" fill="#00c000" textLength="54" lengthAdjust="spacingAndGlyphs">NF1</text>
<text x="337.5" y="280.2" font-size="19.5" fill="#00c000" textLength="46" lengthAdjust="spacingAndGlyphs">KO_1</text>
<text x="492" y="290.3" font-size="32" fill="#f0107a" textLength="86" lengthAdjust="spacingAndGlyphs">NRAS</text>
<text x="579.5" y="280.5" font-size="18" fill="#f0107a" textLength="48" lengthAdjust="spacingAndGlyphs">G12D</text>
<text transform="translate(188,493.6) rotate(-90)" x="0" y="0" font-size="30" textLength="266" lengthAdjust="spacingAndGlyphs">Log [Trametinib](M)</text>
<text x="226.6" y="541.2" font-size="31" textLength="263.5" lengthAdjust="spacingAndGlyphs">Log [Pyrvinium](M)</text>
<line x1="182.5" y1="536" x2="182.5" y2="510.5" stroke="#000" stroke-width="1.6" />
<polygon points="182.5,501.5 187,510.5 178,510.5" fill="#000"/>
<line x1="182.5" y1="536" x2="207" y2="536" stroke="#000" stroke-width="1.6" />
<polygon points="216,536 207,540.5 207,531.5" fill="#000"/>
<text x="783" y="48.7" font-size="63" textLength="33" lengthAdjust="spacingAndGlyphs" stroke="#000" stroke-width="1.6">B</text>
<text transform="translate(1002.55,54.2) rotate(-90)" x="0" y="0" font-size="23" fill="#1a6fc4">39</text>
<text transform="translate(1020.68,54.2) rotate(-90)" x="0" y="0" font-size="23" fill="#1a6fc4">216</text>
<text transform="translate(1038.81,54.2) rotate(-90)" x="0" y="0" font-size="23" fill="#1a6fc4">2</text>
<text transform="translate(1056.94,54.2) rotate(-90)" x="0" y="0" font-size="23" fill="#1a6fc4">9</text>
<text transform="translate(1075.07,54.2) rotate(-90)" x="0" y="0" font-size="23" fill="#1a6fc4">191</text>
<text transform="translate(1093.2,54.2) rotate(-90)" x="0" y="0" font-size="23" fill="#1a6fc4">201</text>
<text transform="translate(1111.33,54.2) rotate(-90)" x="0" y="0" font-size="23" fill="#1a6fc4">207</text>
<text transform="translate(1129.46,54.2) rotate(-90)" x="0" y="0" font-size="23" fill="#1a6fc4">101</text>
<text transform="translate(1147.59,54.2) rotate(-90)" x="0" y="0" font-size="23" fill="#1a6fc4">118</text>
<text transform="translate(1165.72,54.2) rotate(-90)" x="0" y="0" font-size="23" fill="#1a6fc4">50</text>
<text transform="translate(1183.85,54.2) rotate(-90)" x="0" y="0" font-size="23" fill="#1a6fc4">183</text>
<text transform="translate(1201.98,54.2) rotate(-90)" x="0" y="0" font-size="23" fill="#1a6fc4">49</text>
<rect x="987.4" y="58.5" width="14.1" height="22.8" fill="#f7bc8c"/>
<rect x="1005.53" y="58.5" width="14.1" height="22.8" fill="#f7bc8c"/>
<rect x="1023.66" y="58.5" width="14.1" height="22.8" fill="#f7bc8c"/>
<rect x="1041.79" y="58.5" width="14.1" height="22.8" fill="#f7bc8c"/>
<rect x="1059.92" y="58.5" width="14.1" height="22.8" fill="#f7bc8c"/>
<rect x="1078.05" y="58.5" width="14.1" height="22.8" fill="#fce4d2"/>
<rect x="1096.18" y="58.5" width="14.1" height="22.8" fill="#f7bc8c"/>
<rect x="1114.31" y="58.5" width="14.1" height="22.8" fill="#f7bc8c"/>
<rect x="1132.44" y="58.5" width="14.1" height="22.8" fill="#f7bc8c"/>
<rect x="1150.57" y="58.5" width="14.1" height="22.8" fill="#fce4d2"/>
<rect x="1168.7" y="58.5" width="14.1" height="22.8" fill="#f7bc8c"/>
<rect x="1186.83" y="58.5" width="14.1" height="22.8" fill="#f7bc8c"/>
<text x="976.5" y="80.8" font-size="27.5" text-anchor="end">2017 ELN</text>
<rect x="987.4" y="86.15" width="14.1" height="22.8" fill="#4f81bd"/>
<rect x="1005.53" y="86.15" width="14.1" height="22.8" fill="#4f81bd"/>
<rect x="1023.66" y="86.15" width="14.1" height="22.8" fill="#4f81bd"/>
<rect x="1041.79" y="86.15" width="14.1" height="22.8" fill="#4f81bd"/>
<rect x="1059.92" y="86.15" width="14.1" height="22.8" fill="#4f81bd"/>
<rect x="1078.05" y="86.15" width="14.1" height="22.8" fill="#4f81bd"/>
<rect x="1096.18" y="86.15" width="14.1" height="22.8" fill="#ecebe2"/>
<rect x="1114.31" y="86.15" width="14.1" height="22.8" fill="#ecebe2"/>
<rect x="1132.44" y="86.15" width="14.1" height="22.8" fill="#ecebe2"/>
<rect x="1150.57" y="86.15" width="14.1" height="22.8" fill="#ecebe2"/>
<rect x="1168.7" y="86.15" width="14.1" height="22.8" fill="#ecebe2"/>
<rect x="1186.83" y="86.15" width="14.1" height="22.8" fill="#ecebe2"/>
<text x="976.5" y="108.45" font-size="27.5" text-anchor="end" font-style="italic">NRAS</text>
<rect x="987.4" y="113.8" width="14.1" height="22.8" fill="#ecebe2"/>
<rect x="1005.53" y="113.8" width="14.1" height="22.8" fill="#ecebe2"/>
<rect x="1023.66" y="113.8" width="14.1" height="22.8" fill="#ecebe2"/>
<rect x="1041.79" y="113.8" width="14.1" height="22.8" fill="#ecebe2"/>
<rect x="1059.92" y="113.8" width="14.1" height="22.8" fill="#ecebe2"/>
<rect x="1078.05" y="113.8" width="14.1" height="22.8" fill="#ecebe2"/>
<rect x="1096.18" y="113.8" width="14.1" height="22.8" fill="#4f81bd"/>
<rect x="1114.31" y="113.8" width="14.1" height="22.8" fill="#4f81bd"/>
<rect x="1132.44" y="113.8" width="14.1" height="22.8" fill="#4f81bd"/>
<rect x="1150.57" y="113.8" width="14.1" height="22.8" fill="#4f81bd"/>
<rect x="1168.7" y="113.8" width="14.1" height="22.8" fill="#ecebe2"/>
<rect x="1186.83" y="113.8" width="14.1" height="22.8" fill="#ecebe2"/>
<text x="976.5" y="136.1" font-size="27.5" text-anchor="end" font-style="italic">PTPN11</text>
<rect x="987.4" y="141.45" width="14.1" height="22.8" fill="#ecebe2"/>
<rect x="1005.53" y="141.45" width="14.1" height="22.8" fill="#ecebe2"/>
<rect x="1023.66" y="141.45" width="14.1" height="22.8" fill="#ecebe2"/>
<rect x="1041.79" y="141.45" width="14.1" height="22.8" fill="#ecebe2"/>
<rect x="1059.92" y="141.45" width="14.1" height="22.8" fill="#ecebe2"/>
<rect x="1078.05" y="141.45" width="14.1" height="22.8" fill="#ecebe2"/>
<rect x="1096.18" y="141.45" width="14.1" height="22.8" fill="#ecebe2"/>
<rect x="1114.31" y="141.45" width="14.1" height="22.8" fill="#ecebe2"/>
<rect x="1132.44" y="141.45" width="14.1" height="22.8" fill="#ecebe2"/>
<rect x="1150.57" y="141.45" width="14.1" height="22.8" fill="#ecebe2"/>
<rect x="1168.7" y="141.45" width="14.1" height="22.8" fill="#4f81bd"/>
<rect x="1186.83" y="141.45" width="14.1" height="22.8" fill="#ecebe2"/>
<text x="976.5" y="163.75" font-size="27.5" text-anchor="end" font-style="italic">KRAS</text>
<rect x="987.4" y="169.1" width="14.1" height="22.8" fill="#ecebe2"/>
<rect x="1005.53" y="169.1" width="14.1" height="22.8" fill="#4f81bd"/>
<rect x="1023.66" y="169.1" width="14.1" height="22.8" fill="#ecebe2"/>
<rect x="1041.79" y="169.1" width="14.1" height="22.8" fill="#ecebe2"/>
<rect x="1059.92" y="169.1" width="14.1" height="22.8" fill="#ecebe2"/>
<rect x="1078.05" y="169.1" width="14.1" height="22.8" fill="#ecebe2"/>
<rect x="1096.18" y="169.1" width="14.1" height="22.8" fill="#ecebe2"/>
<rect x="1114.31" y="169.1" width="14.1" height="22.8" fill="#ecebe2"/>
<rect x="1132.44" y="169.1" width="14.1" height="22.8" fill="#ecebe2"/>
<rect x="1150.57" y="169.1" width="14.1" height="22.8" fill="#ecebe2"/>
<rect x="1168.7" y="169.1" width="14.1" height="22.8" fill="#ecebe2"/>
<rect x="1186.83" y="169.1" width="14.1" height="22.8" fill="#4f81bd"/>
<text x="976.5" y="191.4" font-size="27.5" text-anchor="end" font-style="italic">CBL</text>
<rect x="987.4" y="196.75" width="14.1" height="22.8" fill="#ecebe2"/>
<rect x="1005.53" y="196.75" width="14.1" height="22.8" fill="#ecebe2"/>
<rect x="1023.66" y="196.75" width="14.1" height="22.8" fill="#ecebe2"/>
<rect x="1041.79" y="196.75" width="14.1" height="22.8" fill="#ecebe2"/>
<rect x="1059.92" y="196.75" width="14.1" height="22.8" fill="#ecebe2"/>
<rect x="1078.05" y="196.75" width="14.1" height="22.8" fill="#ecebe2"/>
<rect x="1096.18" y="196.75" width="14.1" height="22.8" fill="#ecebe2"/>
<rect x="1114.31" y="196.75" width="14.1" height="22.8" fill="#ecebe2"/>
<rect x="1132.44" y="196.75" width="14.1" height="22.8" fill="#4f81bd"/>
<rect x="1150.57" y="196.75" width="14.1" height="22.8" fill="#ecebe2"/>
<rect x="1168.7" y="196.75" width="14.1" height="22.8" fill="#ecebe2"/>
<rect x="1186.83" y="196.75" width="14.1" height="22.8" fill="#ecebe2"/>
<text x="976.5" y="219.05" font-size="27.5" text-anchor="end" font-style="italic">NF1</text>
<rect x="987.4" y="224.4" width="14.1" height="22.8" fill="#ecebe2"/>
<rect x="1005.53" y="224.4" width="14.1" height="22.8" fill="#ecebe2"/>
<rect x="1023.66" y="224.4" width="14.1" height="22.8" fill="#ecebe2"/>
<rect x="1041.79" y="224.4" width="14.1" height="22.8" fill="#ecebe2"/>
<rect x="1059.92" y="224.4" width="14.1" height="22.8" fill="#ecebe2"/>
<rect x="1078.05" y="224.4" width="14.1" height="22.8" fill="#ecebe2"/>
<rect x="1096.18" y="224.4" width="14.1" height="22.8" fill="#4f81bd"/>
<rect x="1114.31" y="224.4" width="14.1" height="22.8" fill="#ecebe2"/>
<rect x="1132.44" y="224.4" width="14.1" height="22.8" fill="#ecebe2"/>
<rect x="1150.57" y="224.4" width="14.1" height="22.8" fill="#ecebe2"/>
<rect x="1168.7" y="224.4" width="14.1" height="22.8" fill="#ecebe2"/>
<rect x="1186.83" y="224.4" width="14.1" height="22.8" fill="#ecebe2"/>
<text x="976.5" y="246.7" font-size="27.5" text-anchor="end" font-style="italic">SOS1</text>
<rect x="987.4" y="252.05" width="14.1" height="22.8" fill="#4f81bd"/>
<rect x="1005.53" y="252.05" width="14.1" height="22.8" fill="#4f81bd"/>
<rect x="1023.66" y="252.05" width="14.1" height="22.8" fill="#ecebe2"/>
<rect x="1041.79" y="252.05" width="14.1" height="22.8" fill="#e4e4e4"/>
<path d="M1039.29,275.85 L1047.79,251.05 L1058.39,251.05 L1049.89,275.85 Z" fill="#5ec8f8"/>
<rect x="1059.92" y="252.05" width="14.1" height="22.8" fill="#e4e4e4"/>
<path d="M1057.42,275.85 L1065.92,251.05 L1076.52,251.05 L1068.02,275.85 Z" fill="#5ec8f8"/>
<rect x="1078.05" y="252.05" width="14.1" height="22.8" fill="#4f81bd"/>
<rect x="1096.18" y="252.05" width="14.1" height="22.8" fill="#ecebe2"/>
<rect x="1114.31" y="252.05" width="14.1" height="22.8" fill="#ecebe2"/>
<rect x="1132.44" y="252.05" width="14.1" height="22.8" fill="#ecebe2"/>
<rect x="1150.57" y="252.05" width="14.1" height="22.8" fill="#ecebe2"/>
<rect x="1168.7" y="252.05" width="14.1" height="22.8" fill="#ecebe2"/>
<rect x="1186.83" y="252.05" width="14.1" height="22.8" fill="#ecebe2"/>
<text x="976.5" y="274.35" font-size="27.5" text-anchor="end" font-style="italic">EZH2</text>
<rect x="987.4" y="279.7" width="14.1" height="22.8" fill="#d8f4d8"/>
<rect x="1005.53" y="279.7" width="14.1" height="22.8" fill="#30c830"/>
<rect x="1023.66" y="279.7" width="14.1" height="22.8" fill="#c4eec4"/>
<rect x="1041.79" y="279.7" width="14.1" height="22.8" fill="#b0e8b0"/>
<rect x="1059.92" y="279.7" width="14.1" height="22.8" fill="#88dc88"/>
<rect x="1078.05" y="279.7" width="14.1" height="22.8" fill="#d04040"/>
<rect x="1096.18" y="279.7" width="14.1" height="22.8" fill="#f8e0e0"/>
<rect x="1114.31" y="279.7" width="14.1" height="22.8" fill="#f8e4e4"/>
<rect x="1132.44" y="279.7" width="14.1" height="22.8" fill="#f0c0c0"/>
<rect x="1150.57" y="279.7" width="14.1" height="22.8" fill="#c00000"/>
<rect x="1168.7" y="279.7" width="14.1" height="22.8" fill="#fdf8f8"/>
<rect x="1186.83" y="279.7" width="14.1" height="22.8" fill="#f0c0c0"/>
<text x="976.5" y="302" font-size="27.5" fill="#c0142c" text-anchor="end">TRA</text>
<rect x="987.4" y="307.35" width="14.1" height="22.8" fill="#f8e4e4"/>
<rect x="1005.53" y="307.35" width="14.1" height="22.8" fill="#fdf8f8"/>
<rect x="1023.66" y="307.35" width="14.1" height="22.8" fill="#f4d0d0"/>
<rect x="1041.79" y="307.35" width="14.1" height="22.8" fill="#fae8e8"/>
<rect x="1059.92" y="307.35" width="14.1" height="22.8" fill="#fefcfc"/>
<rect x="1078.05" y="307.35" width="14.1" height="22.8" fill="#f0c4c4"/>
<rect x="1096.18" y="307.35" width="14.1" height="22.8" fill="#58d058"/>
<rect x="1114.31" y="307.35" width="14.1" height="22.8" fill="#fefcfc"/>
<rect x="1132.44" y="307.35" width="14.1" height="22.8" fill="#60d060"/>
<rect x="1150.57" y="307.35" width="14.1" height="22.8" fill="#fae8e8"/>
<rect x="1168.7" y="307.35" width="14.1" height="22.8" fill="#98e098"/>
<rect x="1186.83" y="307.35" width="14.1" height="22.8" fill="#e4a0a0"/>
<text x="976.5" y="329.65" font-size="27.5" fill="#e8641e" text-anchor="end">PYR</text>
<rect x="987.4" y="335" width="14.1" height="25.5" fill="#30c830"/>
<rect x="1005.53" y="335" width="14.1" height="25.5" fill="#30c830"/>
<rect x="1023.66" y="335" width="14.1" height="25.5" fill="#40cc40"/>
<rect x="1041.79" y="335" width="14.1" height="25.5" fill="#38c838"/>
<rect x="1059.92" y="335" width="14.1" height="25.5" fill="#30c830"/>
<rect x="1078.05" y="335" width="14.1" height="25.5" fill="#b0e8b0"/>
<rect x="1096.18" y="335" width="14.1" height="25.5" fill="#30c830"/>
<rect x="1114.31" y="335" width="14.1" height="25.5" fill="#30c830"/>
<rect x="1132.44" y="335" width="14.1" height="25.5" fill="#78d878"/>
<rect x="1150.57" y="335" width="14.1" height="25.5" fill="#fae8e8"/>
<rect x="1168.7" y="335" width="14.1" height="25.5" fill="#38c838"/>
<rect x="1186.83" y="335" width="14.1" height="25.5" fill="#f0c4c4"/>
<text x="976.5" y="359" font-size="27.5" fill="#00a050" text-anchor="end">TRA+PYR</text>
<text transform="translate(1001.35,418) rotate(-90)" x="0" y="0" font-size="19" textLength="50" lengthAdjust="spacingAndGlyphs">G12D</text>
<text transform="translate(1019.48,418) rotate(-90)" x="0" y="0" font-size="19" textLength="50" lengthAdjust="spacingAndGlyphs">Q61R</text>
<text transform="translate(1037.61,418) rotate(-90)" x="0" y="0" font-size="19" textLength="50" lengthAdjust="spacingAndGlyphs">G12S</text>
<text transform="translate(1055.74,418) rotate(-90)" x="0" y="0" font-size="19" textLength="50" lengthAdjust="spacingAndGlyphs">G12D</text>
<text transform="translate(1073.87,418) rotate(-90)" x="0" y="0" font-size="19" textLength="50" lengthAdjust="spacingAndGlyphs">G12S</text>
<text transform="translate(1092,418) rotate(-90)" x="0" y="0" font-size="19" textLength="50" lengthAdjust="spacingAndGlyphs">Q61L</text>
<text transform="translate(1182.65,418) rotate(-90)" x="0" y="0" font-size="19" textLength="50" lengthAdjust="spacingAndGlyphs">G12A</text>
<text x="1151" y="464.3" font-size="31" text-anchor="end" textLength="278.5" lengthAdjust="spacingAndGlyphs">Mut. present/absent</text>
<text x="1159.7" y="491.3" font-size="31" text-anchor="end" textLength="168.5" lengthAdjust="spacingAndGlyphs">ELN Int/Adv</text>
<text x="1159.7" y="519" font-size="31" text-anchor="end" textLength="371.5" lengthAdjust="spacingAndGlyphs">L-CFU ratio lowest/highest</text>
<rect x="1164.8" y="442.4" width="13.4" height="21.9" fill="#0a6ec6"/>
<rect x="1182.8" y="442.4" width="13.4" height="21.9" fill="#ecebe2"/>
<rect x="1164.8" y="469.6" width="13.4" height="22.4" fill="#fce4d2"/>
<rect x="1182.8" y="469.6" width="13.4" height="22.4" fill="#f7bc8c"/>
<rect x="1164.8" y="497.2" width="13.4" height="23.1" fill="#30c830"/>
<rect x="1182.8" y="497.2" width="13.4" height="23.1" fill="#c00000"/>
<line x1="1419.2" y1="174.8" x2="1419.2" y2="363" stroke="#000" stroke-width="2" />
<line x1="1419.2" y1="92.2" x2="1419.2" y2="140" stroke="#000" stroke-width="2" />
<line x1="1408" y1="140" x2="1430.4" y2="140" stroke="#000" stroke-width="2" />
<line x1="1408" y1="174.8" x2="1430.4" y2="174.8" stroke="#000" stroke-width="2" />
<line x1="1412.8" y1="363" x2="1419.2" y2="363" stroke="#000" stroke-width="2" />
<line x1="1412.8" y1="300.1" x2="1419.2" y2="300.1" stroke="#000" stroke-width="2" />
<line x1="1412.8" y1="237.2" x2="1419.2" y2="237.2" stroke="#000" stroke-width="2" />
<line x1="1412.8" y1="96.1" x2="1419.2" y2="96.1" stroke="#000" stroke-width="2" />
<line x1="1412.8" y1="132.3" x2="1419.2" y2="132.3" stroke="#000" stroke-width="2" />
<line x1="1412.8" y1="363" x2="1600.2" y2="363" stroke="#000" stroke-width="2" />
<text x="1408" y="184.4" font-size="27" text-anchor="end">1.5</text>
<text x="1408" y="247.3" font-size="27" text-anchor="end">1.0</text>
<text x="1408" y="310.2" font-size="27" text-anchor="end">0.5</text>
<text x="1408" y="372.6" font-size="27" text-anchor="end">0.0</text>
<text x="1408" y="105.7" font-size="27" text-anchor="end">4</text>
<text x="1408" y="141.9" font-size="27" text-anchor="end">2</text>
<rect x="1438.6" y="232.2" width="33.7" height="130.8" fill="#f2d4d9" stroke="#c0203a" stroke-width="1.5"/>
<rect x="1491.5" y="287.5" width="34" height="75.5" fill="#fde3c8" stroke="#ff6a10" stroke-width="1.5"/>
<rect x="1545" y="339.8" width="34.7" height="23.2" fill="#ccf5cc" stroke="#189a18" stroke-width="1.5"/>
<line x1="1455.2" y1="185.6" x2="1455.2" y2="277.3" stroke="#c0203a" stroke-width="2" />
<line x1="1446.9" y1="185.6" x2="1463.5" y2="185.6" stroke="#c0203a" stroke-width="2" />
<line x1="1446.9" y1="277.3" x2="1463.5" y2="277.3" stroke="#c0203a" stroke-width="2" />
<line x1="1508.9" y1="270.3" x2="1508.9" y2="303.1" stroke="#ff6a10" stroke-width="2" />
<line x1="1500.6" y1="270.3" x2="1517.2" y2="270.3" stroke="#ff6a10" stroke-width="2" />
<line x1="1500.6" y1="303.1" x2="1517.2" y2="303.1" stroke="#ff6a10" stroke-width="2" />
<line x1="1562.6" y1="325.6" x2="1562.6" y2="352" stroke="#189a18" stroke-width="2" />
<line x1="1554.3" y1="325.6" x2="1570.9" y2="325.6" stroke="#189a18" stroke-width="2" />
<line x1="1554.3" y1="352" x2="1570.9" y2="352" stroke="#189a18" stroke-width="2" />
<circle cx="1455.16" cy="97.1" r="4" fill="#c0203a" />
<circle cx="1455.16" cy="111.16" r="4" fill="#c0203a" />
<circle cx="1455.16" cy="195.72" r="4" fill="#c0203a" />
<circle cx="1455.16" cy="214.85" r="4" fill="#c0203a" />
<circle cx="1455.16" cy="263.48" r="4" fill="#c0203a" />
<circle cx="1455.16" cy="280.07" r="4" fill="#c0203a" />
<circle cx="1455.16" cy="304.09" r="4" fill="#c0203a" />
<circle cx="1455.16" cy="325.18" r="4" fill="#c0203a" />
<circle cx="1441.69" cy="334.36" r="4" fill="#c0203a" />
<circle cx="1468.44" cy="329.48" r="4" fill="#c0203a" />
<circle cx="1455.16" cy="344.51" r="4" fill="#c0203a" />
<circle cx="1455.16" cy="363.65" r="4" fill="#c0203a" />
<circle cx="1508.86" cy="137.72" r="4" fill="#ff6a10" />
<circle cx="1508.86" cy="230.47" r="4" fill="#ff6a10" />
<circle cx="1508.86" cy="245.12" r="4" fill="#ff6a10" />
<circle cx="1495.78" cy="274.8" r="4" fill="#ff6a10" />
<circle cx="1522.14" cy="283.2" r="4" fill="#ff6a10" />
<circle cx="1495.78" cy="288.47" r="4" fill="#ff6a10" />
<circle cx="1508.86" cy="303.12" r="4" fill="#ff6a10" />
<circle cx="1495.78" cy="308.97" r="4" fill="#ff6a10" />
<circle cx="1522.14" cy="308" r="4" fill="#ff6a10" />
<circle cx="1508.86" cy="339.63" r="4" fill="#ff6a10" />
<circle cx="1495.78" cy="354.86" r="4" fill="#ff6a10" />
<circle cx="1522.14" cy="352.33" r="4" fill="#ff6a10" />
<circle cx="1562.56" cy="216.61" r="4" fill="#189a18" />
<circle cx="1562.56" cy="275.39" r="4" fill="#189a18" />
<circle cx="1562.56" cy="333.38" r="4" fill="#189a18" />
<circle cx="1562.56" cy="346.47" r="4" fill="#189a18" />
<circle cx="1553.38" cy="357.79" r="4" fill="#189a18" />
<circle cx="1549.48" cy="363.65" r="4" fill="#189a18" />
<circle cx="1557.29" cy="363.65" r="4" fill="#189a18" />
<circle cx="1565.1" cy="363.65" r="4" fill="#189a18" />
<circle cx="1572.91" cy="363.65" r="4" fill="#189a18" />
<circle cx="1576.82" cy="363.65" r="4" fill="#189a18" />
<path d="M1455.2,175.2 L1455.2,166 L1555.7,166 L1555.7,175.2" fill="none" stroke="#000" stroke-width="2"/>
<text x="1506" y="172.3" font-size="38" text-anchor="middle" font-weight="bold">*</text>
<text x="1545" y="327" font-size="27" textLength="39.5" lengthAdjust="spacingAndGlyphs" font-weight="bold">***</text>
<text x="1421.6" y="395" font-size="24.5" fill="#a01020" textLength="49" lengthAdjust="spacingAndGlyphs">TRA</text>
<text x="1480" y="395" font-size="24.5" fill="#ff6a10" textLength="49.5" lengthAdjust="spacingAndGlyphs">PYR</text>
<text x="1538.7" y="395" font-size="24.5" fill="#108010" textLength="93.5" lengthAdjust="spacingAndGlyphs">COMBO</text>
<text transform="translate(1316,314.8) rotate(-90)" x="0" y="0" font-size="27" textLength="75" lengthAdjust="spacingAndGlyphs">L-CFU</text>
<text transform="translate(1353.5,352.9) rotate(-90)" x="0" y="0" font-size="27" textLength="164" lengthAdjust="spacingAndGlyphs">(ratio to CTR)</text>
<text x="1" y="706.8" font-size="68" textLength="37" lengthAdjust="spacingAndGlyphs" stroke="#000" stroke-width="1.1">C</text>
<text x="79" y="699.5" font-size="32" textLength="85.5" lengthAdjust="spacingAndGlyphs">HL-60</text>
<ellipse cx="127.4" cy="727.2" rx="29.6" ry="16.2" fill="#f8a8a8" stroke="#d8b0b0" stroke-width="1.3" />
<ellipse cx="125.9" cy="727.7" rx="18.2" ry="10.6" fill="#a0009e" stroke="#d0a0d0" stroke-width="1.3"/>
<ellipse cx="156" cy="756.8" rx="29.6" ry="16.2" fill="#f8a8a8" stroke="#d8b0b0" stroke-width="1.3" />
<ellipse cx="154.5" cy="757.3" rx="18.2" ry="10.6" fill="#a0009e" stroke="#d0a0d0" stroke-width="1.3"/>
<ellipse cx="110" cy="775" rx="29.6" ry="16.2" fill="#f8a8a8" stroke="#d8b0b0" stroke-width="1.3" />
<ellipse cx="108.5" cy="775.5" rx="18.2" ry="10.6" fill="#a0009e" stroke="#d0a0d0" stroke-width="1.3"/>
<ellipse cx="99.7" cy="750.4" rx="29.6" ry="16.2" fill="#f8a8a8" stroke="#d8b0b0" stroke-width="1.3" />
<ellipse cx="98.2" cy="750.9" rx="18.2" ry="10.6" fill="#a0009e" stroke="#d0a0d0" stroke-width="1.3"/>
<line x1="197.5" y1="752" x2="233.3" y2="752" stroke="#4472c4" stroke-width="2" />
<polygon points="245.3,752 233.3,758 233.3,746" fill="#4472c4"/>
<text x="190" y="794" font-size="32" textLength="67" lengthAdjust="spacingAndGlyphs">Luc+</text>
<text x="190" y="832" font-size="32" textLength="85.5" lengthAdjust="spacingAndGlyphs">vector</text>
<ellipse cx="319.5" cy="716" rx="29.6" ry="16.2" fill="#ffa20a" stroke="#e89a30" stroke-width="1.3" />
<ellipse cx="318" cy="716.5" rx="18.2" ry="10.6" fill="#a0009e" stroke="#d0a0d0" stroke-width="1.3"/>
<ellipse cx="348.8" cy="744.7" rx="29.6" ry="16.2" fill="#ffa20a" stroke="#e89a30" stroke-width="1.3" />
<ellipse cx="347.3" cy="745.2" rx="18.2" ry="10.6" fill="#a0009e" stroke="#d0a0d0" stroke-width="1.3"/>
<ellipse cx="302" cy="763.2" rx="29.6" ry="16.2" fill="#ffa20a" stroke="#e89a30" stroke-width="1.3" />
<ellipse cx="300.5" cy="763.7" rx="18.2" ry="10.6" fill="#a0009e" stroke="#d0a0d0" stroke-width="1.3"/>
<ellipse cx="288.3" cy="739" rx="29.6" ry="16.2" fill="#ffa20a" stroke="#e89a30" stroke-width="1.3" />
<ellipse cx="286.8" cy="739.5" rx="18.2" ry="10.6" fill="#a0009e" stroke="#d0a0d0" stroke-width="1.3"/>
<line x1="338.3" y1="769.2" x2="363.4" y2="793.63" stroke="#4472c4" stroke-width="2" />
<polygon points="372,802 359.22,797.93 367.59,789.33" fill="#4472c4"/>
<g transform="translate(330,790) scale(0.07710)" stroke-linejoin="round" stroke-linecap="round"><path d="M265,800 C140,880 50,1080 190,1210 C390,1360 880,1365 1190,1360 C1450,1362 1650,1430 1790,1550" fill="none" stroke="#333" stroke-width="50"/><path d="M265,800 C140,880 50,1080 190,1210 C390,1360 880,1365 1190,1360 C1450,1362 1650,1430 1790,1550" fill="none" stroke="#f4f4f5" stroke-width="31"/><path d="M255,745 C270,560 330,400 450,290 C560,200 700,170 830,172 C960,175 1080,200 1150,225 C1200,240 1235,262 1250,268 C1238,200 1236,120 1262,78 C1290,62 1350,110 1385,165 C1410,205 1415,250 1420,280 C1460,350 1510,420 1560,490 C1590,560 1600,620 1625,680 C1650,715 1660,755 1640,775 C1600,800 1540,805 1500,795 C1420,785 1300,775 1245,795 C1195,830 1180,890 1205,935 C1240,985 1300,1040 1340,1075 C1330,1105 1290,1120 1265,1110 C1185,1055 1080,985 1000,925 C920,935 850,945 800,955 C800,995 770,1035 735,1050 C690,1025 640,1000 600,985 C520,935 420,895 350,880 C300,878 265,870 250,860 Z" fill="#ebebed" stroke="#333" stroke-width="12"/><path d="M330,830 C500,800 800,800 1000,830 C1100,850 1180,800 1210,700 C1240,800 1220,900 1190,930 C1100,940 950,960 800,955 C650,950 450,900 330,830 Z" fill="#d9dadd"/><path d="M1020,560 C1080,600 1150,620 1240,560 C1300,640 1320,700 1330,770 C1280,780 1240,795 1220,820 C1150,760 1060,700 1020,560 Z" fill="#dfe0e3"/><ellipse cx="1135" cy="370" rx="112" ry="150" transform="rotate(-28 1135 370)" fill="#efeff1" stroke="#333" stroke-width="11"/><path d="M1070,300 C1090,265 1150,265 1200,300" fill="none" stroke="#d6d6da" stroke-width="12"/><ellipse cx="1425" cy="595" rx="40" ry="36" fill="#333"/><circle cx="1415" cy="585" r="12" fill="#aaa"/><line x1="1505" y1="790" x2="1345" y2="845" stroke="#666" stroke-width="5"/><line x1="1505" y1="790" x2="1385" y2="905" stroke="#666" stroke-width="5"/><line x1="1505" y1="790" x2="1420" y2="945" stroke="#666" stroke-width="5"/><line x1="1505" y1="790" x2="1460" y2="965" stroke="#666" stroke-width="5"/><line x1="1505" y1="790" x2="1500" y2="960" stroke="#666" stroke-width="5"/><line x1="1640" y1="680" x2="1670" y2="600" stroke="#555" stroke-width="5"/><line x1="1640" y1="680" x2="1690" y2="660" stroke="#555" stroke-width="5"/><line x1="1640" y1="680" x2="1680" y2="700" stroke="#555" stroke-width="5"/><path d="M1200,900 C1250,930 1300,940 1330,980 M1240,1020 C1280,1040 1320,1060 1340,1090 M600,960 C620,990 630,1020 635,1030 M680,975 C700,1000 720,1030 735,1050 M740,960 C770,980 790,990 805,1000" fill="none" stroke="#444" stroke-width="7"/></g>
<line x1="468.3" y1="819.5" x2="499.53" y2="788.2" stroke="#f7a01e" stroke-width="2" />
<polygon points="508,779.7 503.77,792.43 495.28,783.96" fill="#f7a01e"/>
<line x1="468.3" y1="859.4" x2="499.61" y2="891.42" stroke="#10b040" stroke-width="2" />
<polygon points="508,900 495.32,895.61 503.9,887.23" fill="#10b040"/>
<text x="433" y="729" font-size="25" fill="#f4a460" textLength="155" lengthAdjust="spacingAndGlyphs">Tumor burden</text>
<text x="433" y="759" font-size="25" fill="#f4a460" textLength="132.5" lengthAdjust="spacingAndGlyphs">assessment</text>
<text x="458.7" y="939" font-size="25" fill="#10b030" textLength="111.3" lengthAdjust="spacingAndGlyphs">Treatment</text>
<text x="619" y="707.3" font-size="68.5" textLength="42" lengthAdjust="spacingAndGlyphs" stroke="#000" stroke-width="1">D</text>
<text x="899" y="656.2" font-size="31.5" textLength="290" lengthAdjust="spacingAndGlyphs">HL-60 Luc+ (day 29)</text>
<rect x="699.4" y="666.2" width="12.4" height="200.4" fill="url(#jetbar)"/>
<rect x="717.9" y="665.1" width="304.6" height="201.9" fill="#060606"/>
<g clip-path="url(#pclip1)">
<rect x="776.82" y="695.1" width="3" height="118" fill="#161616"/>
<rect x="837.74" y="695.1" width="3" height="118" fill="#161616"/>
<rect x="898.66" y="695.1" width="3" height="118" fill="#161616"/>
<rect x="959.58" y="695.1" width="3" height="118" fill="#161616"/>
<rect x="787.9" y="692.1" width="80" height="4" fill="#1a1a1a"/>
<g transform="translate(749.3,709.4) scale(1,1)"><path d="M0,106 C1,125 2,145 4,162.6" fill="none" stroke="#c6c6c6" stroke-width="3.4" stroke-linecap="round" opacity="0.8"/><path d="M-19,103 C-22,106 -25,109 -27,113 M19,103 C22,106 25,109 27,113" fill="none" stroke="#c6c6c6" stroke-width="4" stroke-linecap="round" opacity="0.7"/><path d="M-17.5,15 C-17.5,4 -10,-1 0,-1 C10,-1 17.5,4 17.5,15 C18.5,26 20,34 22,44 C24.5,58 25.5,72 25.5,87 C25.5,101 21,108 12,110 C5,111.5 -5,111.5 -12,110 C-21,108 -25.5,101 -25.5,87 C-25.5,72 -24.5,58 -22,44 C-20,34 -18.5,26 -17.5,15 Z" fill="#c6c6c6"/><path d="M-17.5,15 C-17.5,4 -10,-1 0,-1 C10,-1 17.5,4 17.5,15 C18.5,26 20,34 22,44 C24.5,58 25.5,72 25.5,87 C25.5,101 21,108 12,110 C5,111.5 -5,111.5 -12,110 C-21,108 -25.5,101 -25.5,87 C-25.5,72 -24.5,58 -22,44 C-20,34 -18.5,26 -17.5,15 Z" fill="url(#mshade)"/><g filter="url(#rough)"><ellipse cx="1" cy="36" rx="17" ry="24" fill="url(#jblue)" transform="rotate(0 1 36)"/><ellipse cx="-1" cy="37" rx="6" ry="15" fill="url(#jmed)" transform="rotate(0 -1 37)"/><ellipse cx="9" cy="17" rx="5" ry="3.5" fill="url(#jmed)" transform="rotate(0 9 17)"/><ellipse cx="0" cy="2" rx="6" ry="3" fill="url(#jblue)" transform="rotate(0 0 2)"/><ellipse cx="21" cy="59" rx="4" ry="6" fill="url(#jlow)" transform="rotate(0 21 59)"/><ellipse cx="-20" cy="84" rx="10.35" ry="19.04" fill="url(#jhot2)" transform="rotate(-12 -20 84)"/><ellipse cx="18" cy="92" rx="8.05" ry="17.92" fill="url(#jhot)" transform="rotate(10 18 92)"/><ellipse cx="-1" cy="98" rx="9" ry="11" fill="url(#wpatch)" transform="rotate(0 -1 98)"/><ellipse cx="-1" cy="109" rx="4" ry="5" fill="url(#jlow)" transform="rotate(0 -1 109)"/><ellipse cx="10.7" cy="45.9" rx="4.33" ry="3.51" fill="url(#jmed)" transform="rotate(28.96 10.7 45.9)"/><ellipse cx="-9.13" cy="31.68" rx="4.21" ry="5.56" fill="url(#jmed)" transform="rotate(15.21 -9.13 31.68)"/><ellipse cx="-8.58" cy="40.39" rx="2.8" ry="3.81" fill="url(#jmed)" transform="rotate(-9.2 -8.58 40.39)"/><ellipse cx="0.68" cy="37.93" rx="3.38" ry="4.51" fill="url(#jmed)" transform="rotate(34.68 0.68 37.93)"/></g></g>
<g transform="translate(805,709.4) scale(1,1)"><path d="M0,106 C1,125 2,145 4,162.6" fill="none" stroke="#b6b6b6" stroke-width="3.4" stroke-linecap="round" opacity="0.8"/><path d="M-19,103 C-22,106 -25,109 -27,113 M19,103 C22,106 25,109 27,113" fill="none" stroke="#b6b6b6" stroke-width="4" stroke-linecap="round" opacity="0.7"/><path d="M-17.5,15 C-17.5,4 -10,-1 0,-1 C10,-1 17.5,4 17.5,15 C18.5,26 20,34 22,44 C24.5,58 25.5,72 25.5,87 C25.5,101 21,108 12,110 C5,111.5 -5,111.5 -12,110 C-21,108 -25.5,101 -25.5,87 C-25.5,72 -24.5,58 -22,44 C-20,34 -18.5,26 -17.5,15 Z" fill="#b6b6b6"/><path d="M-17.5,15 C-17.5,4 -10,-1 0,-1 C10,-1 17.5,4 17.5,15 C18.5,26 20,34 22,44 C24.5,58 25.5,72 25.5,87 C25.5,101 21,108 12,110 C5,111.5 -5,111.5 -12,110 C-21,108 -25.5,101 -25.5,87 C-25.5,72 -24.5,58 -22,44 C-20,34 -18.5,26 -17.5,15 Z" fill="url(#mshade)"/><g filter="url(#rough)"><ellipse cx="2" cy="38" rx="17" ry="27" fill="url(#jblue)" transform="rotate(0 2 38)"/><ellipse cx="2" cy="42" rx="6" ry="16" fill="url(#jmed)" transform="rotate(0 2 42)"/><ellipse cx="6" cy="3" rx="6" ry="3" fill="url(#jblue)" transform="rotate(0 6 3)"/><ellipse cx="17" cy="64" rx="7" ry="6" fill="url(#jlow)" transform="rotate(0 17 64)"/><ellipse cx="-18" cy="87" rx="11.5" ry="17.92" fill="url(#jhot2)" transform="rotate(-8 -18 87)"/><ellipse cx="20" cy="88" rx="10.35" ry="16.8" fill="url(#jhot2)" transform="rotate(8 20 88)"/><ellipse cx="1" cy="90" rx="8" ry="8" fill="url(#jblue)" transform="rotate(0 1 90)"/><ellipse cx="1" cy="101" rx="6" ry="6" fill="url(#wpatch)" transform="rotate(0 1 101)"/><ellipse cx="0" cy="110" rx="4" ry="4" fill="url(#jlow)" transform="rotate(0 0 110)"/><ellipse cx="8.34" cy="42" rx="4.38" ry="5.58" fill="url(#jmed)" transform="rotate(6.05 8.34 42)"/><ellipse cx="-4.6" cy="50.02" rx="3.9" ry="4.76" fill="url(#jmed)" transform="rotate(19.41 -4.6 50.02)"/><ellipse cx="1.93" cy="30.92" rx="4.3" ry="3.58" fill="url(#jmed)" transform="rotate(-11.19 1.93 30.92)"/><ellipse cx="10.55" cy="35.9" rx="2.93" ry="3.65" fill="url(#jmed)" transform="rotate(-1.35 10.55 35.9)"/></g></g>
<g transform="translate(865.5,709.4) scale(1,1)"><path d="M0,106 C1,125 2,145 4,162.6" fill="none" stroke="#929292" stroke-width="3.4" stroke-linecap="round" opacity="0.8"/><path d="M-19,103 C-22,106 -25,109 -27,113 M19,103 C22,106 25,109 27,113" fill="none" stroke="#929292" stroke-width="4" stroke-linecap="round" opacity="0.7"/><path d="M-17.5,15 C-17.5,4 -10,-1 0,-1 C10,-1 17.5,4 17.5,15 C18.5,26 20,34 22,44 C24.5,58 25.5,72 25.5,87 C25.5,101 21,108 12,110 C5,111.5 -5,111.5 -12,110 C-21,108 -25.5,101 -25.5,87 C-25.5,72 -24.5,58 -22,44 C-20,34 -18.5,26 -17.5,15 Z" fill="#929292"/><path d="M-17.5,15 C-17.5,4 -10,-1 0,-1 C10,-1 17.5,4 17.5,15 C18.5,26 20,34 22,44 C24.5,58 25.5,72 25.5,87 C25.5,101 21,108 12,110 C5,111.5 -5,111.5 -12,110 C-21,108 -25.5,101 -25.5,87 C-25.5,72 -24.5,58 -22,44 C-20,34 -18.5,26 -17.5,15 Z" fill="url(#mshade)"/><g filter="url(#rough)"><ellipse cx="0" cy="33" rx="20" ry="33" fill="url(#jblue)" transform="rotate(0 0 33)"/><ellipse cx="2" cy="36" rx="11" ry="23" fill="url(#jmed)" transform="rotate(0 2 36)"/><ellipse cx="3" cy="40" rx="3.45" ry="13.44" fill="url(#jhot2)" transform="rotate(0 3 40)"/><ellipse cx="20" cy="63" rx="4" ry="7" fill="url(#jlow)" transform="rotate(0 20 63)"/><ellipse cx="0" cy="95" rx="21" ry="18" fill="url(#jblue)" transform="rotate(0 0 95)"/><ellipse cx="-21" cy="91" rx="12.65" ry="15.68" fill="url(#jhot2)" transform="rotate(0 -21 91)"/><ellipse cx="19" cy="88" rx="11.5" ry="15.68" fill="url(#jhot2)" transform="rotate(0 19 88)"/><ellipse cx="-16" cy="107" rx="4.6" ry="5.6" fill="url(#jhot)" transform="rotate(0 -16 107)"/><ellipse cx="17" cy="105" rx="4.6" ry="4.48" fill="url(#jhot)" transform="rotate(0 17 105)"/><ellipse cx="0" cy="116" rx="5" ry="7" fill="url(#jmed)" transform="rotate(0 0 116)"/><ellipse cx="6.03" cy="16.28" rx="3.62" ry="4.34" fill="url(#jmed)" transform="rotate(36.08 6.03 16.28)"/><ellipse cx="-0.92" cy="21.67" rx="3.36" ry="4.1" fill="url(#jmed)" transform="rotate(38.52 -0.92 21.67)"/><ellipse cx="6.04" cy="26.77" rx="4.4" ry="4.67" fill="url(#jmed)" transform="rotate(1.37 6.04 26.77)"/><ellipse cx="-11.6" cy="22.95" rx="3.23" ry="4.08" fill="url(#jmed)" transform="rotate(-13.99 -11.6 22.95)"/><ellipse cx="12.45" cy="96.58" rx="2.85" ry="4.71" fill="url(#jmed)" transform="rotate(-32.81 12.45 96.58)"/><ellipse cx="2.43" cy="102.53" rx="4.14" ry="3.15" fill="url(#jmed)" transform="rotate(-19.01 2.43 102.53)"/><ellipse cx="5.04" cy="101.91" rx="2.69" ry="4.07" fill="url(#jmed)" transform="rotate(20.6 5.04 101.91)"/><ellipse cx="-4.02" cy="96.9" rx="2.79" ry="5.32" fill="url(#jmed)" transform="rotate(10.39 -4.02 96.9)"/></g></g>
<g transform="translate(923.7,709.4) scale(1,1)"><path d="M0,106 C1,125 2,145 4,162.6" fill="none" stroke="#7e7e7e" stroke-width="3.4" stroke-linecap="round" opacity="0.8"/><path d="M-19,103 C-22,106 -25,109 -27,113 M19,103 C22,106 25,109 27,113" fill="none" stroke="#7e7e7e" stroke-width="4" stroke-linecap="round" opacity="0.7"/><path d="M-17.5,15 C-17.5,4 -10,-1 0,-1 C10,-1 17.5,4 17.5,15 C18.5,26 20,34 22,44 C24.5,58 25.5,72 25.5,87 C25.5,101 21,108 12,110 C5,111.5 -5,111.5 -12,110 C-21,108 -25.5,101 -25.5,87 C-25.5,72 -24.5,58 -22,44 C-20,34 -18.5,26 -17.5,15 Z" fill="#7e7e7e"/><path d="M-17.5,15 C-17.5,4 -10,-1 0,-1 C10,-1 17.5,4 17.5,15 C18.5,26 20,34 22,44 C24.5,58 25.5,72 25.5,87 C25.5,101 21,108 12,110 C5,111.5 -5,111.5 -12,110 C-21,108 -25.5,101 -25.5,87 C-25.5,72 -24.5,58 -22,44 C-20,34 -18.5,26 -17.5,15 Z" fill="url(#mshade)"/><g filter="url(#rough)"><ellipse cx="0" cy="4" rx="3" ry="2" fill="url(#jblue)" transform="rotate(0 0 4)"/><ellipse cx="6" cy="5" rx="2" ry="2" fill="url(#jblue)" transform="rotate(0 6 5)"/><ellipse cx="-12" cy="19" rx="5" ry="3" fill="url(#jblue)" transform="rotate(-20 -12 19)"/><ellipse cx="9" cy="23" rx="4" ry="5" fill="url(#jblue)" transform="rotate(0 9 23)"/><ellipse cx="-7" cy="30" rx="3" ry="5" fill="url(#jblue)" transform="rotate(0 -7 30)"/><ellipse cx="1" cy="42" rx="4.5" ry="10" fill="url(#jmed)" transform="rotate(0 1 42)"/><ellipse cx="-12" cy="36" rx="3" ry="3" fill="url(#jblue)" transform="rotate(0 -12 36)"/><ellipse cx="14" cy="64" rx="2" ry="2" fill="url(#jblue)" transform="rotate(0 14 64)"/><ellipse cx="-17" cy="94" rx="9.2" ry="16.8" fill="url(#jhot2)" transform="rotate(-10 -17 94)"/><ellipse cx="20" cy="88" rx="5.5" ry="15" fill="url(#jlow)" transform="rotate(0 20 88)"/><ellipse cx="0" cy="111" rx="3.5" ry="4" fill="url(#jlow)" transform="rotate(0 0 111)"/></g></g>
<g transform="translate(982.6,709.4) scale(1,1)"><path d="M0,106 C1,125 2,145 4,162.6" fill="none" stroke="#6e6e6e" stroke-width="3.4" stroke-linecap="round" opacity="0.8"/><path d="M-19,103 C-22,106 -25,109 -27,113 M19,103 C22,106 25,109 27,113" fill="none" stroke="#6e6e6e" stroke-width="4" stroke-linecap="round" opacity="0.7"/><path d="M-17.5,15 C-17.5,4 -10,-1 0,-1 C10,-1 17.5,4 17.5,15 C18.5,26 20,34 22,44 C24.5,58 25.5,72 25.5,87 C25.5,101 21,108 12,110 C5,111.5 -5,111.5 -12,110 C-21,108 -25.5,101 -25.5,87 C-25.5,72 -24.5,58 -22,44 C-20,34 -18.5,26 -17.5,15 Z" fill="#6e6e6e"/><path d="M-17.5,15 C-17.5,4 -10,-1 0,-1 C10,-1 17.5,4 17.5,15 C18.5,26 20,34 22,44 C24.5,58 25.5,72 25.5,87 C25.5,101 21,108 12,110 C5,111.5 -5,111.5 -12,110 C-21,108 -25.5,101 -25.5,87 C-25.5,72 -24.5,58 -22,44 C-20,34 -18.5,26 -17.5,15 Z" fill="url(#mshade)"/><g filter="url(#rough)"><ellipse cx="0" cy="96" rx="17" ry="11" fill="url(#gbright)" transform="rotate(0 0 96)"/></g></g>
</g>
<rect x="717.9" y="665.1" width="304.6" height="201.9" fill="url(#panelvig)"/>
<text x="916" y="701.1" font-size="31" fill="#1ab8e8">vehicle</text>
<rect x="1029" y="665.7" width="305.2" height="201.5" fill="#060606"/>
<g clip-path="url(#pclip2)">
<rect x="1088.04" y="695.7" width="3" height="118" fill="#161616"/>
<rect x="1149.08" y="695.7" width="3" height="118" fill="#161616"/>
<rect x="1210.12" y="695.7" width="3" height="118" fill="#161616"/>
<rect x="1271.16" y="695.7" width="3" height="118" fill="#161616"/>
<rect x="1099" y="692.7" width="80" height="4" fill="#1a1a1a"/>
<g transform="translate(1066,709.4) scale(1,1)"><path d="M0,106 C1,125 2,145 4,162.6" fill="none" stroke="#bcbcbc" stroke-width="3.4" stroke-linecap="round" opacity="0.8"/><path d="M-19,103 C-22,106 -25,109 -27,113 M19,103 C22,106 25,109 27,113" fill="none" stroke="#bcbcbc" stroke-width="4" stroke-linecap="round" opacity="0.7"/><path d="M-17.5,15 C-17.5,4 -10,-1 0,-1 C10,-1 17.5,4 17.5,15 C18.5,26 20,34 22,44 C24.5,58 25.5,72 25.5,87 C25.5,101 21,108 12,110 C5,111.5 -5,111.5 -12,110 C-21,108 -25.5,101 -25.5,87 C-25.5,72 -24.5,58 -22,44 C-20,34 -18.5,26 -17.5,15 Z" fill="#bcbcbc"/><path d="M-17.5,15 C-17.5,4 -10,-1 0,-1 C10,-1 17.5,4 17.5,15 C18.5,26 20,34 22,44 C24.5,58 25.5,72 25.5,87 C25.5,101 21,108 12,110 C5,111.5 -5,111.5 -12,110 C-21,108 -25.5,101 -25.5,87 C-25.5,72 -24.5,58 -22,44 C-20,34 -18.5,26 -17.5,15 Z" fill="url(#mshade)"/><g filter="url(#rough)"><ellipse cx="0" cy="38" rx="19" ry="26" fill="url(#jblue)" transform="rotate(0 0 38)"/><ellipse cx="-4" cy="36" rx="7" ry="16" fill="url(#jmed)" transform="rotate(0 -4 36)"/><ellipse cx="2" cy="2" rx="4" ry="3" fill="url(#jmed)" transform="rotate(0 2 2)"/><ellipse cx="0" cy="9" rx="3" ry="5" fill="url(#jblue)" transform="rotate(0 0 9)"/><ellipse cx="14" cy="65" rx="6" ry="7" fill="url(#jmed)" transform="rotate(0 14 65)"/><ellipse cx="-21" cy="89" rx="9.2" ry="15.68" fill="url(#jhot2)" transform="rotate(-5 -21 89)"/><ellipse cx="19.5" cy="85" rx="8.05" ry="13.44" fill="url(#jhot2)" transform="rotate(5 19.5 85)"/><ellipse cx="-3" cy="88" rx="8" ry="9" fill="url(#wpatch)" transform="rotate(0 -3 88)"/><ellipse cx="-2" cy="103" rx="18" ry="9" fill="url(#jblue)" transform="rotate(0 -2 103)"/><ellipse cx="-15" cy="106" rx="4.6" ry="5.6" fill="url(#jhot)" transform="rotate(0 -15 106)"/><ellipse cx="2" cy="114" rx="4.6" ry="7.84" fill="url(#jhot2)" transform="rotate(0 2 114)"/><ellipse cx="0" cy="130" rx="2.5" ry="14" fill="url(#jlow)" transform="rotate(0 0 130)"/><ellipse cx="-8.89" cy="29.33" rx="3.14" ry="4.25" fill="url(#jmed)" transform="rotate(-27.89 -8.89 29.33)"/><ellipse cx="8.39" cy="47.49" rx="2.98" ry="3.66" fill="url(#jmed)" transform="rotate(2.29 8.39 47.49)"/><ellipse cx="10.52" cy="27.77" rx="3.6" ry="3.05" fill="url(#jmed)" transform="rotate(-32.31 10.52 27.77)"/><ellipse cx="11.37" cy="32.69" rx="3.62" ry="4.93" fill="url(#jmed)" transform="rotate(27.47 11.37 32.69)"/><ellipse cx="-6.4" cy="99.01" rx="4.43" ry="3.51" fill="url(#jmed)" transform="rotate(9.28 -6.4 99.01)"/><ellipse cx="6.18" cy="101.45" rx="3.41" ry="4.52" fill="url(#jmed)" transform="rotate(9.43 6.18 101.45)"/><ellipse cx="6.66" cy="99.22" rx="3.59" ry="3.1" fill="url(#jmed)" transform="rotate(33 6.66 99.22)"/><ellipse cx="-8.36" cy="99.49" rx="4.41" ry="5.54" fill="url(#jmed)" transform="rotate(-10.22 -8.36 99.49)"/></g></g>
<g transform="translate(1126,709.4) scale(1,1)"><path d="M0,106 C1,125 2,145 4,162.6" fill="none" stroke="#a2a2a2" stroke-width="3.4" stroke-linecap="round" opacity="0.8"/><path d="M-19,103 C-22,106 -25,109 -27,113 M19,103 C22,106 25,109 27,113" fill="none" stroke="#a2a2a2" stroke-width="4" stroke-linecap="round" opacity="0.7"/><path d="M-17.5,15 C-17.5,4 -10,-1 0,-1 C10,-1 17.5,4 17.5,15 C18.5,26 20,34 22,44 C24.5,58 25.5,72 25.5,87 C25.5,101 21,108 12,110 C5,111.5 -5,111.5 -12,110 C-21,108 -25.5,101 -25.5,87 C-25.5,72 -24.5,58 -22,44 C-20,34 -18.5,26 -17.5,15 Z" fill="#a2a2a2"/><path d="M-17.5,15 C-17.5,4 -10,-1 0,-1 C10,-1 17.5,4 17.5,15 C18.5,26 20,34 22,44 C24.5,58 25.5,72 25.5,87 C25.5,101 21,108 12,110 C5,111.5 -5,111.5 -12,110 C-21,108 -25.5,101 -25.5,87 C-25.5,72 -24.5,58 -22,44 C-20,34 -18.5,26 -17.5,15 Z" fill="url(#mshade)"/><g filter="url(#rough)"><ellipse cx="3" cy="2" rx="4" ry="2.5" fill="url(#jlow)" transform="rotate(0 3 2)"/><ellipse cx="-5" cy="18" rx="3" ry="3" fill="url(#jblue)" transform="rotate(0 -5 18)"/><ellipse cx="15" cy="20" rx="3" ry="4" fill="url(#jblue)" transform="rotate(30 15 20)"/><ellipse cx="-7" cy="42" rx="8" ry="9" fill="url(#jblue)" transform="rotate(0 -7 42)"/><ellipse cx="6" cy="35" rx="3.5" ry="15" fill="url(#jlow)" transform="rotate(0 6 35)"/><ellipse cx="-16" cy="78" rx="8.05" ry="13.44" fill="url(#jhot2)" transform="rotate(-10 -16 78)"/><ellipse cx="17" cy="83" rx="6" ry="14" fill="url(#jmed)" transform="rotate(10 17 83)"/><ellipse cx="-11" cy="97" rx="2" ry="2" fill="url(#jblue)" transform="rotate(0 -11 97)"/><ellipse cx="0" cy="107" rx="3.5" ry="3.5" fill="url(#jblue)" transform="rotate(0 0 107)"/></g></g>
<g transform="translate(1182.6,709.4) scale(1,1)"><path d="M0,106 C1,125 2,145 4,162.6" fill="none" stroke="#8c8c8c" stroke-width="3.4" stroke-linecap="round" opacity="0.8"/><path d="M-19,103 C-22,106 -25,109 -27,113 M19,103 C22,106 25,109 27,113" fill="none" stroke="#8c8c8c" stroke-width="4" stroke-linecap="round" opacity="0.7"/><path d="M-17.5,15 C-17.5,4 -10,-1 0,-1 C10,-1 17.5,4 17.5,15 C18.5,26 20,34 22,44 C24.5,58 25.5,72 25.5,87 C25.5,101 21,108 12,110 C5,111.5 -5,111.5 -12,110 C-21,108 -25.5,101 -25.5,87 C-25.5,72 -24.5,58 -22,44 C-20,34 -18.5,26 -17.5,15 Z" fill="#8c8c8c"/><path d="M-17.5,15 C-17.5,4 -10,-1 0,-1 C10,-1 17.5,4 17.5,15 C18.5,26 20,34 22,44 C24.5,58 25.5,72 25.5,87 C25.5,101 21,108 12,110 C5,111.5 -5,111.5 -12,110 C-21,108 -25.5,101 -25.5,87 C-25.5,72 -24.5,58 -22,44 C-20,34 -18.5,26 -17.5,15 Z" fill="url(#mshade)"/><g filter="url(#rough)"><ellipse cx="4" cy="4" rx="4" ry="3" fill="url(#jmed)" transform="rotate(0 4 4)"/><ellipse cx="-1" cy="39" rx="20" ry="23" fill="url(#jblue)" transform="rotate(0 -1 39)"/><ellipse cx="-1" cy="40" rx="9" ry="14" fill="url(#jmed)" transform="rotate(0 -1 40)"/><ellipse cx="17" cy="28" rx="4" ry="6" fill="url(#jblue)" transform="rotate(0 17 28)"/><ellipse cx="14" cy="60" rx="5" ry="7" fill="url(#jlow)" transform="rotate(0 14 60)"/><ellipse cx="-22" cy="84" rx="10.35" ry="13.44" fill="url(#jhot2)" transform="rotate(-8 -22 84)"/><ellipse cx="19" cy="85" rx="8.05" ry="16.8" fill="url(#jhot2)" transform="rotate(5 19 85)"/><ellipse cx="-15" cy="101" rx="3.45" ry="3.36" fill="url(#jhot)" transform="rotate(0 -15 101)"/><ellipse cx="-2" cy="105" rx="6" ry="5" fill="url(#jlow)" transform="rotate(0 -2 105)"/><ellipse cx="1.77" cy="34.5" rx="3.88" ry="3.61" fill="url(#jmed)" transform="rotate(-14.96 1.77 34.5)"/><ellipse cx="3.29" cy="49.6" rx="3.84" ry="4.66" fill="url(#jmed)" transform="rotate(-9.63 3.29 49.6)"/><ellipse cx="-6.19" cy="41.68" rx="4" ry="5.25" fill="url(#jmed)" transform="rotate(5.52 -6.19 41.68)"/><ellipse cx="1.79" cy="34.24" rx="4.09" ry="3.35" fill="url(#jmed)" transform="rotate(1.76 1.79 34.24)"/></g></g>
<g transform="translate(1240.3,709.4) scale(1,1)"><path d="M0,106 C1,125 2,145 4,162.6" fill="none" stroke="#787878" stroke-width="3.4" stroke-linecap="round" opacity="0.8"/><path d="M-19,103 C-22,106 -25,109 -27,113 M19,103 C22,106 25,109 27,113" fill="none" stroke="#787878" stroke-width="4" stroke-linecap="round" opacity="0.7"/><path d="M-17.5,15 C-17.5,4 -10,-1 0,-1 C10,-1 17.5,4 17.5,15 C18.5,26 20,34 22,44 C24.5,58 25.5,72 25.5,87 C25.5,101 21,108 12,110 C5,111.5 -5,111.5 -12,110 C-21,108 -25.5,101 -25.5,87 C-25.5,72 -24.5,58 -22,44 C-20,34 -18.5,26 -17.5,15 Z" fill="#787878"/><path d="M-17.5,15 C-17.5,4 -10,-1 0,-1 C10,-1 17.5,4 17.5,15 C18.5,26 20,34 22,44 C24.5,58 25.5,72 25.5,87 C25.5,101 21,108 12,110 C5,111.5 -5,111.5 -12,110 C-21,108 -25.5,101 -25.5,87 C-25.5,72 -24.5,58 -22,44 C-20,34 -18.5,26 -17.5,15 Z" fill="url(#mshade)"/><g filter="url(#rough)"><ellipse cx="-18.3" cy="25.6" rx="2" ry="3" fill="url(#jblue)" transform="rotate(0 -18.3 25.6)"/><ellipse cx="9" cy="24.4" rx="5" ry="4" fill="url(#jlow)" transform="rotate(0 9 24.4)"/><ellipse cx="5.5" cy="45.8" rx="2.5" ry="2" fill="url(#jblue)" transform="rotate(0 5.5 45.8)"/><ellipse cx="19" cy="62.4" rx="4.5" ry="3.5" fill="url(#jblue)" transform="rotate(-30 19 62.4)"/><ellipse cx="-18.4" cy="78.5" rx="5" ry="8" fill="url(#jlow)" transform="rotate(-20 -18.4 78.5)"/><ellipse cx="15.3" cy="79.9" rx="9.2" ry="10.08" fill="url(#jhot2)" transform="rotate(0 15.3 79.9)"/><ellipse cx="-15.6" cy="95.4" rx="3" ry="4" fill="url(#jlow)" transform="rotate(0 -15.6 95.4)"/><ellipse cx="11" cy="96.8" rx="2" ry="3" fill="url(#jblue)" transform="rotate(0 11 96.8)"/><ellipse cx="-3" cy="106" rx="4" ry="4" fill="url(#jlow)" transform="rotate(0 -3 106)"/></g></g>
<g transform="translate(1297.9,709.4) scale(1,1)"><path d="M0,106 C1,125 2,145 4,162.6" fill="none" stroke="#808080" stroke-width="3.4" stroke-linecap="round" opacity="0.8"/><path d="M-19,103 C-22,106 -25,109 -27,113 M19,103 C22,106 25,109 27,113" fill="none" stroke="#808080" stroke-width="4" stroke-linecap="round" opacity="0.7"/><path d="M-17.5,15 C-17.5,4 -10,-1 0,-1 C10,-1 17.5,4 17.5,15 C18.5,26 20,34 22,44 C24.5,58 25.5,72 25.5,87 C25.5,101 21,108 12,110 C5,111.5 -5,111.5 -12,110 C-21,108 -25.5,101 -25.5,87 C-25.5,72 -24.5,58 -22,44 C-20,34 -18.5,26 -17.5,15 Z" fill="#808080"/><path d="M-17.5,15 C-17.5,4 -10,-1 0,-1 C10,-1 17.5,4 17.5,15 C18.5,26 20,34 22,44 C24.5,58 25.5,72 25.5,87 C25.5,101 21,108 12,110 C5,111.5 -5,111.5 -12,110 C-21,108 -25.5,101 -25.5,87 C-25.5,72 -24.5,58 -22,44 C-20,34 -18.5,26 -17.5,15 Z" fill="url(#mshade)"/><g filter="url(#rough)"><ellipse cx="-10.6" cy="20.8" rx="4" ry="2.8" fill="url(#jlow)" transform="rotate(0 -10.6 20.8)"/><ellipse cx="9" cy="21.6" rx="4" ry="3.5" fill="url(#jlow)" transform="rotate(0 9 21.6)"/><ellipse cx="2.8" cy="46" rx="3.5" ry="11" fill="url(#jmed)" transform="rotate(0 2.8 46)"/><ellipse cx="0" cy="100" rx="16" ry="8" fill="url(#gbright)" transform="rotate(0 0 100)"/><ellipse cx="-16" cy="89" rx="5" ry="7" fill="url(#jmed)" transform="rotate(0 -16 89)"/><ellipse cx="20.4" cy="82" rx="4.5" ry="5" fill="url(#jblue)" transform="rotate(0 20.4 82)"/></g></g>
</g>
<rect x="1029" y="665.7" width="305.2" height="201.5" fill="url(#panelvig)"/>
<text x="1168.4" y="701.7" font-size="31" fill="#ee2222">Trametinib</text>
<rect x="717.9" y="873.6" width="306.1" height="202.3" fill="#060606"/>
<g clip-path="url(#pclip3)">
<rect x="777.12" y="903.6" width="3" height="118" fill="#161616"/>
<rect x="838.34" y="903.6" width="3" height="118" fill="#161616"/>
<rect x="899.56" y="903.6" width="3" height="118" fill="#161616"/>
<rect x="960.78" y="903.6" width="3" height="118" fill="#161616"/>
<rect x="787.9" y="900.6" width="80" height="4" fill="#1a1a1a"/>
<g transform="translate(746.9,912.6) scale(1,1)"><path d="M0,106 C1,125 2,145 4,167.4" fill="none" stroke="#c4c4c4" stroke-width="3.4" stroke-linecap="round" opacity="0.8"/><path d="M-19,103 C-22,106 -25,109 -27,113 M19,103 C22,106 25,109 27,113" fill="none" stroke="#c4c4c4" stroke-width="4" stroke-linecap="round" opacity="0.7"/><path d="M-17.5,15 C-17.5,4 -10,-1 0,-1 C10,-1 17.5,4 17.5,15 C18.5,26 20,34 22,44 C24.5,58 25.5,72 25.5,87 C25.5,101 21,108 12,110 C5,111.5 -5,111.5 -12,110 C-21,108 -25.5,101 -25.5,87 C-25.5,72 -24.5,58 -22,44 C-20,34 -18.5,26 -17.5,15 Z" fill="#c4c4c4"/><path d="M-17.5,15 C-17.5,4 -10,-1 0,-1 C10,-1 17.5,4 17.5,15 C18.5,26 20,34 22,44 C24.5,58 25.5,72 25.5,87 C25.5,101 21,108 12,110 C5,111.5 -5,111.5 -12,110 C-21,108 -25.5,101 -25.5,87 C-25.5,72 -24.5,58 -22,44 C-20,34 -18.5,26 -17.5,15 Z" fill="url(#mshade)"/><g filter="url(#rough)"><ellipse cx="-1.5" cy="2" rx="3" ry="3" fill="url(#jlow)" transform="rotate(0 -1.5 2)"/><ellipse cx="4" cy="3" rx="3.45" ry="3.36" fill="url(#jhot)" transform="rotate(0 4 3)"/><ellipse cx="-4" cy="14" rx="5" ry="3" fill="url(#jblue)" transform="rotate(0 -4 14)"/><ellipse cx="0" cy="42" rx="20" ry="27" fill="url(#jblue)" transform="rotate(0 0 42)"/><ellipse cx="-4" cy="45" rx="7" ry="16" fill="url(#jmed)" transform="rotate(0 -4 45)"/><ellipse cx="-15" cy="20" rx="5" ry="6" fill="url(#jblue)" transform="rotate(0 -15 20)"/><ellipse cx="19.4" cy="61" rx="5" ry="8" fill="url(#jmed)" transform="rotate(0 19.4 61)"/><ellipse cx="17.6" cy="85" rx="8.05" ry="10.08" fill="url(#jhot2)" transform="rotate(0 17.6 85)"/><ellipse cx="-20.4" cy="84" rx="5.75" ry="11.2" fill="url(#jhot2)" transform="rotate(0 -20.4 84)"/><ellipse cx="-12" cy="99" rx="6.9" ry="8.96" fill="url(#jhot)" transform="rotate(0 -12 99)"/><ellipse cx="12" cy="97" rx="7" ry="9" fill="url(#jblue)" transform="rotate(0 12 97)"/><ellipse cx="-1.5" cy="105" rx="6" ry="7" fill="url(#wpatch)" transform="rotate(0 -1.5 105)"/><ellipse cx="0" cy="113" rx="3" ry="4" fill="url(#jlow)" transform="rotate(0 0 113)"/><ellipse cx="7.28" cy="51.11" rx="4.32" ry="4.07" fill="url(#jmed)" transform="rotate(32.27 7.28 51.11)"/><ellipse cx="-9.23" cy="51.97" rx="4.03" ry="4.28" fill="url(#jmed)" transform="rotate(35.89 -9.23 51.97)"/><ellipse cx="8.64" cy="35.15" rx="4.47" ry="4.91" fill="url(#jmed)" transform="rotate(-29.69 8.64 35.15)"/><ellipse cx="-3.76" cy="57.33" rx="3.91" ry="5.72" fill="url(#jmed)" transform="rotate(-27.97 -3.76 57.33)"/></g></g>
<g transform="translate(806.8,912.6) scale(1,1)"><path d="M0,106 C1,125 2,145 4,167.4" fill="none" stroke="#b0b0b0" stroke-width="3.4" stroke-linecap="round" opacity="0.8"/><path d="M-19,103 C-22,106 -25,109 -27,113 M19,103 C22,106 25,109 27,113" fill="none" stroke="#b0b0b0" stroke-width="4" stroke-linecap="round" opacity="0.7"/><path d="M-17.5,15 C-17.5,4 -10,-1 0,-1 C10,-1 17.5,4 17.5,15 C18.5,26 20,34 22,44 C24.5,58 25.5,72 25.5,87 C25.5,101 21,108 12,110 C5,111.5 -5,111.5 -12,110 C-21,108 -25.5,101 -25.5,87 C-25.5,72 -24.5,58 -22,44 C-20,34 -18.5,26 -17.5,15 Z" fill="#b0b0b0"/><path d="M-17.5,15 C-17.5,4 -10,-1 0,-1 C10,-1 17.5,4 17.5,15 C18.5,26 20,34 22,44 C24.5,58 25.5,72 25.5,87 C25.5,101 21,108 12,110 C5,111.5 -5,111.5 -12,110 C-21,108 -25.5,101 -25.5,87 C-25.5,72 -24.5,58 -22,44 C-20,34 -18.5,26 -17.5,15 Z" fill="url(#mshade)"/><g filter="url(#rough)"><ellipse cx="4.6" cy="2.6" rx="4" ry="3" fill="url(#jmed)" transform="rotate(0 4.6 2.6)"/><ellipse cx="2" cy="39" rx="19" ry="28" fill="url(#jblue)" transform="rotate(0 2 39)"/><ellipse cx="2" cy="38" rx="5" ry="18" fill="url(#jmed)" transform="rotate(0 2 38)"/><ellipse cx="-12" cy="20" rx="5" ry="4" fill="url(#jmed)" transform="rotate(0 -12 20)"/><ellipse cx="20" cy="65" rx="4" ry="7" fill="url(#jmed)" transform="rotate(0 20 65)"/><ellipse cx="0" cy="95" rx="24" ry="12" fill="url(#jblue)" transform="rotate(0 0 95)"/><ellipse cx="0" cy="96" rx="14" ry="6" fill="url(#jlow)" transform="rotate(0 0 96)"/><ellipse cx="-22" cy="88" rx="8.05" ry="8.96" fill="url(#jhot2)" transform="rotate(0 -22 88)"/><ellipse cx="20.4" cy="85" rx="6.9" ry="11.2" fill="url(#jhot2)" transform="rotate(0 20.4 85)"/><ellipse cx="10" cy="104" rx="3.45" ry="5.6" fill="url(#jhot)" transform="rotate(0 10 104)"/><ellipse cx="-13" cy="108" rx="5" ry="4" fill="url(#jlow)" transform="rotate(0 -13 108)"/><ellipse cx="-8.45" cy="54.51" rx="3.73" ry="5.28" fill="url(#jmed)" transform="rotate(9.03 -8.45 54.51)"/><ellipse cx="10.03" cy="41.3" rx="3.24" ry="3.4" fill="url(#jmed)" transform="rotate(-12.2 10.03 41.3)"/><ellipse cx="8.75" cy="54.79" rx="2.7" ry="3.09" fill="url(#jmed)" transform="rotate(18.55 8.75 54.79)"/><ellipse cx="12.47" cy="29.24" rx="2.58" ry="4.24" fill="url(#jmed)" transform="rotate(-30.55 12.47 29.24)"/><ellipse cx="5.31" cy="95.98" rx="2.54" ry="4.97" fill="url(#jmed)" transform="rotate(-28.93 5.31 95.98)"/><ellipse cx="-12.83" cy="96.4" rx="3.02" ry="3.01" fill="url(#jmed)" transform="rotate(-33.9 -12.83 96.4)"/><ellipse cx="6.52" cy="98.93" rx="2.97" ry="4.64" fill="url(#jmed)" transform="rotate(33.56 6.52 98.93)"/><ellipse cx="7.64" cy="89.32" rx="3.33" ry="4.58" fill="url(#jmed)" transform="rotate(30.86 7.64 89.32)"/></g></g>
<g transform="translate(864.2,912.6) scale(1,1)"><path d="M0,106 C1,125 2,145 4,167.4" fill="none" stroke="#8a8a8a" stroke-width="3.4" stroke-linecap="round" opacity="0.8"/><path d="M-19,103 C-22,106 -25,109 -27,113 M19,103 C22,106 25,109 27,113" fill="none" stroke="#8a8a8a" stroke-width="4" stroke-linecap="round" opacity="0.7"/><path d="M-17.5,15 C-17.5,4 -10,-1 0,-1 C10,-1 17.5,4 17.5,15 C18.5,26 20,34 22,44 C24.5,58 25.5,72 25.5,87 C25.5,101 21,108 12,110 C5,111.5 -5,111.5 -12,110 C-21,108 -25.5,101 -25.5,87 C-25.5,72 -24.5,58 -22,44 C-20,34 -18.5,26 -17.5,15 Z" fill="#8a8a8a"/><path d="M-17.5,15 C-17.5,4 -10,-1 0,-1 C10,-1 17.5,4 17.5,15 C18.5,26 20,34 22,44 C24.5,58 25.5,72 25.5,87 C25.5,101 21,108 12,110 C5,111.5 -5,111.5 -12,110 C-21,108 -25.5,101 -25.5,87 C-25.5,72 -24.5,58 -22,44 C-20,34 -18.5,26 -17.5,15 Z" fill="url(#mshade)"/><g filter="url(#rough)"><ellipse cx="0" cy="4" rx="5" ry="2" fill="url(#jblue)" transform="rotate(0 0 4)"/><ellipse cx="0" cy="35" rx="14" ry="12" fill="url(#jblue)" transform="rotate(0 0 35)"/><ellipse cx="2" cy="36" rx="6" ry="7" fill="url(#jmed)" transform="rotate(0 2 36)"/><ellipse cx="16.6" cy="63" rx="4.5" ry="6" fill="url(#jmed)" transform="rotate(0 16.6 63)"/><ellipse cx="-16.7" cy="82" rx="8" ry="7" fill="url(#jmed)" transform="rotate(0 -16.7 82)"/><ellipse cx="19.4" cy="85" rx="5.75" ry="7.28" fill="url(#jhot2)" transform="rotate(0 19.4 85)"/><ellipse cx="0" cy="104" rx="2" ry="2" fill="url(#jblue)" transform="rotate(0 0 104)"/><ellipse cx="-5.12" cy="32.3" rx="2.67" ry="4.2" fill="url(#jmed)" transform="rotate(9.33 -5.12 32.3)"/><ellipse cx="-0.37" cy="35.95" rx="4.3" ry="5.05" fill="url(#jmed)" transform="rotate(30.47 -0.37 35.95)"/><ellipse cx="-2.97" cy="32.68" rx="3.76" ry="4.97" fill="url(#jmed)" transform="rotate(-8.02 -2.97 32.68)"/><ellipse cx="-7.38" cy="31.63" rx="2.51" ry="3.21" fill="url(#jmed)" transform="rotate(-27.01 -7.38 31.63)"/></g></g>
<g transform="translate(926.9,912.6) scale(1,1)"><path d="M0,106 C1,125 2,145 4,167.4" fill="none" stroke="#8a8a8a" stroke-width="3.4" stroke-linecap="round" opacity="0.8"/><path d="M-19,103 C-22,106 -25,109 -27,113 M19,103 C22,106 25,109 27,113" fill="none" stroke="#8a8a8a" stroke-width="4" stroke-linecap="round" opacity="0.7"/><path d="M-17.5,15 C-17.5,4 -10,-1 0,-1 C10,-1 17.5,4 17.5,15 C18.5,26 20,34 22,44 C24.5,58 25.5,72 25.5,87 C25.5,101 21,108 12,110 C5,111.5 -5,111.5 -12,110 C-21,108 -25.5,101 -25.5,87 C-25.5,72 -24.5,58 -22,44 C-20,34 -18.5,26 -17.5,15 Z" fill="#8a8a8a"/><path d="M-17.5,15 C-17.5,4 -10,-1 0,-1 C10,-1 17.5,4 17.5,15 C18.5,26 20,34 22,44 C24.5,58 25.5,72 25.5,87 C25.5,101 21,108 12,110 C5,111.5 -5,111.5 -12,110 C-21,108 -25.5,101 -25.5,87 C-25.5,72 -24.5,58 -22,44 C-20,34 -18.5,26 -17.5,15 Z" fill="url(#mshade)"/><g filter="url(#rough)"><ellipse cx="0" cy="8" rx="4" ry="3" fill="url(#jblue)" transform="rotate(0 0 8)"/><ellipse cx="1.6" cy="37" rx="19" ry="21" fill="url(#jblue)" transform="rotate(0 1.6 37)"/><ellipse cx="2" cy="38" rx="8" ry="12" fill="url(#jmed)" transform="rotate(0 2 38)"/><ellipse cx="19" cy="65" rx="4" ry="7" fill="url(#jmed)" transform="rotate(0 19 65)"/><ellipse cx="-18.3" cy="81" rx="9.2" ry="11.2" fill="url(#jhot2)" transform="rotate(0 -18.3 81)"/><ellipse cx="16" cy="89" rx="9.2" ry="11.2" fill="url(#jhot2)" transform="rotate(0 16 89)"/><ellipse cx="-1.6" cy="95" rx="16" ry="8" fill="url(#jmed)" transform="rotate(0 -1.6 95)"/><ellipse cx="9.65" cy="30.05" rx="3.36" ry="4.85" fill="url(#jmed)" transform="rotate(39.46 9.65 30.05)"/><ellipse cx="0.77" cy="37.18" rx="4.27" ry="5.15" fill="url(#jmed)" transform="rotate(14.83 0.77 37.18)"/><ellipse cx="-8.02" cy="41.57" rx="3.16" ry="3.89" fill="url(#jmed)" transform="rotate(36.19 -8.02 41.57)"/><ellipse cx="-0.08" cy="36.14" rx="3.4" ry="5.06" fill="url(#jmed)" transform="rotate(-36.7 -0.08 36.14)"/></g></g>
<g transform="translate(982.6,912.6) scale(1,1)"><path d="M0,106 C1,125 2,145 4,167.4" fill="none" stroke="#6e6e6e" stroke-width="3.4" stroke-linecap="round" opacity="0.8"/><path d="M-19,103 C-22,106 -25,109 -27,113 M19,103 C22,106 25,109 27,113" fill="none" stroke="#6e6e6e" stroke-width="4" stroke-linecap="round" opacity="0.7"/><path d="M-17.5,15 C-17.5,4 -10,-1 0,-1 C10,-1 17.5,4 17.5,15 C18.5,26 20,34 22,44 C24.5,58 25.5,72 25.5,87 C25.5,101 21,108 12,110 C5,111.5 -5,111.5 -12,110 C-21,108 -25.5,101 -25.5,87 C-25.5,72 -24.5,58 -22,44 C-20,34 -18.5,26 -17.5,15 Z" fill="#6e6e6e"/><path d="M-17.5,15 C-17.5,4 -10,-1 0,-1 C10,-1 17.5,4 17.5,15 C18.5,26 20,34 22,44 C24.5,58 25.5,72 25.5,87 C25.5,101 21,108 12,110 C5,111.5 -5,111.5 -12,110 C-21,108 -25.5,101 -25.5,87 C-25.5,72 -24.5,58 -22,44 C-20,34 -18.5,26 -17.5,15 Z" fill="url(#mshade)"/><g filter="url(#rough)"><ellipse cx="2" cy="19" rx="4" ry="3" fill="url(#jblue)" transform="rotate(0 2 19)"/><ellipse cx="-8.5" cy="35" rx="3" ry="4" fill="url(#jmed)" transform="rotate(0 -8.5 35)"/><ellipse cx="-4" cy="51" rx="3" ry="6" fill="url(#jlow)" transform="rotate(0 -4 51)"/><ellipse cx="12" cy="76" rx="6" ry="4" fill="url(#jmed)" transform="rotate(0 12 76)"/><ellipse cx="-19" cy="94" rx="5" ry="11" fill="url(#jlow)" transform="rotate(0 -19 94)"/><ellipse cx="14" cy="94" rx="6.9" ry="11.2" fill="url(#jhot)" transform="rotate(0 14 94)"/><ellipse cx="-7" cy="112" rx="3" ry="5" fill="url(#jlow)" transform="rotate(0 -7 112)"/><ellipse cx="0" cy="100" rx="14" ry="9" fill="url(#gbright)" transform="rotate(0 0 100)"/></g></g>
</g>
<rect x="717.9" y="873.6" width="306.1" height="202.3" fill="url(#panelvig)"/>
<text x="877.5" y="909.6" font-size="31" fill="#ff6a00">pyrvinium</text>
<rect x="1029" y="873.7" width="306.5" height="201.8" fill="#060606"/>
<g clip-path="url(#pclip4)">
<rect x="1088.3" y="903.7" width="3" height="118" fill="#161616"/>
<rect x="1149.6" y="903.7" width="3" height="118" fill="#161616"/>
<rect x="1210.9" y="903.7" width="3" height="118" fill="#161616"/>
<rect x="1272.2" y="903.7" width="3" height="118" fill="#161616"/>
<rect x="1099" y="900.7" width="80" height="4" fill="#1a1a1a"/>
<g transform="translate(1057.4,911.7) scale(1.12,1)"><path d="M0,106 C1,125 2,145 4,168.3" fill="none" stroke="#cccccc" stroke-width="3.4" stroke-linecap="round" opacity="0.8"/><path d="M-19,103 C-22,106 -25,109 -27,113 M19,103 C22,106 25,109 27,113" fill="none" stroke="#cccccc" stroke-width="4" stroke-linecap="round" opacity="0.7"/><path d="M-17.5,15 C-17.5,4 -10,-1 0,-1 C10,-1 17.5,4 17.5,15 C18.5,26 20,34 22,44 C24.5,58 25.5,72 25.5,87 C25.5,101 21,108 12,110 C5,111.5 -5,111.5 -12,110 C-21,108 -25.5,101 -25.5,87 C-25.5,72 -24.5,58 -22,44 C-20,34 -18.5,26 -17.5,15 Z" fill="#cccccc"/><path d="M-17.5,15 C-17.5,4 -10,-1 0,-1 C10,-1 17.5,4 17.5,15 C18.5,26 20,34 22,44 C24.5,58 25.5,72 25.5,87 C25.5,101 21,108 12,110 C5,111.5 -5,111.5 -12,110 C-21,108 -25.5,101 -25.5,87 C-25.5,72 -24.5,58 -22,44 C-20,34 -18.5,26 -17.5,15 Z" fill="url(#mshade)"/><g filter="url(#rough)"><ellipse cx="-22" cy="81" rx="3" ry="4" fill="url(#jblue)" transform="rotate(0 -22 81)"/><ellipse cx="0" cy="95" rx="16" ry="10" fill="url(#wpatch)" transform="rotate(0 0 95)"/></g></g>
<g transform="translate(1114.8,914.7) scale(1.1,1)"><path d="M0,106 C1,125 2,145 4,165.3" fill="none" stroke="#c2c2c2" stroke-width="3.4" stroke-linecap="round" opacity="0.8"/><path d="M-19,103 C-22,106 -25,109 -27,113 M19,103 C22,106 25,109 27,113" fill="none" stroke="#c2c2c2" stroke-width="4" stroke-linecap="round" opacity="0.7"/><path d="M-17.5,15 C-17.5,4 -10,-1 0,-1 C10,-1 17.5,4 17.5,15 C18.5,26 20,34 22,44 C24.5,58 25.5,72 25.5,87 C25.5,101 21,108 12,110 C5,111.5 -5,111.5 -12,110 C-21,108 -25.5,101 -25.5,87 C-25.5,72 -24.5,58 -22,44 C-20,34 -18.5,26 -17.5,15 Z" fill="#c2c2c2"/><path d="M-17.5,15 C-17.5,4 -10,-1 0,-1 C10,-1 17.5,4 17.5,15 C18.5,26 20,34 22,44 C24.5,58 25.5,72 25.5,87 C25.5,101 21,108 12,110 C5,111.5 -5,111.5 -12,110 C-21,108 -25.5,101 -25.5,87 C-25.5,72 -24.5,58 -22,44 C-20,34 -18.5,26 -17.5,15 Z" fill="url(#mshade)"/><g filter="url(#rough)"><ellipse cx="-7" cy="35" rx="4" ry="6" fill="url(#jlow)" transform="rotate(0 -7 35)"/><ellipse cx="0" cy="1" rx="3" ry="2" fill="url(#jlow)" transform="rotate(0 0 1)"/><ellipse cx="-22" cy="82" rx="8.05" ry="10.08" fill="url(#jhot)" transform="rotate(0 -22 82)"/><ellipse cx="18" cy="86" rx="12.65" ry="11.2" fill="url(#jhot2)" transform="rotate(0 18 86)"/><ellipse cx="0" cy="98" rx="14" ry="8" fill="url(#gbright)" transform="rotate(0 0 98)"/></g></g>
<g transform="translate(1173.9,916.3) scale(1.05,1)"><path d="M0,106 C1,125 2,145 4,163.7" fill="none" stroke="#a0a0a0" stroke-width="3.4" stroke-linecap="round" opacity="0.8"/><path d="M-19,103 C-22,106 -25,109 -27,113 M19,103 C22,106 25,109 27,113" fill="none" stroke="#a0a0a0" stroke-width="4" stroke-linecap="round" opacity="0.7"/><path d="M-17.5,15 C-17.5,4 -10,-1 0,-1 C10,-1 17.5,4 17.5,15 C18.5,26 20,34 22,44 C24.5,58 25.5,72 25.5,87 C25.5,101 21,108 12,110 C5,111.5 -5,111.5 -12,110 C-21,108 -25.5,101 -25.5,87 C-25.5,72 -24.5,58 -22,44 C-20,34 -18.5,26 -17.5,15 Z" fill="#a0a0a0"/><path d="M-17.5,15 C-17.5,4 -10,-1 0,-1 C10,-1 17.5,4 17.5,15 C18.5,26 20,34 22,44 C24.5,58 25.5,72 25.5,87 C25.5,101 21,108 12,110 C5,111.5 -5,111.5 -12,110 C-21,108 -25.5,101 -25.5,87 C-25.5,72 -24.5,58 -22,44 C-20,34 -18.5,26 -17.5,15 Z" fill="url(#mshade)"/><g filter="url(#rough)"><ellipse cx="10" cy="27" rx="4" ry="4" fill="url(#jblue)" transform="rotate(0 10 27)"/><ellipse cx="7" cy="36" rx="4" ry="4" fill="url(#jblue)" transform="rotate(0 7 36)"/><ellipse cx="19" cy="22" rx="3" ry="5" fill="url(#jlow)" transform="rotate(0 19 22)"/><ellipse cx="-18" cy="80" rx="8" ry="10" fill="url(#jmed)" transform="rotate(0 -18 80)"/><ellipse cx="16" cy="86" rx="7" ry="9" fill="url(#jmed)" transform="rotate(0 16 86)"/></g></g>
<g transform="translate(1233.8,919.5) scale(1.05,1)"><path d="M0,106 C1,125 2,145 4,160.5" fill="none" stroke="#8e8e8e" stroke-width="3.4" stroke-linecap="round" opacity="0.8"/><path d="M-19,103 C-22,106 -25,109 -27,113 M19,103 C22,106 25,109 27,113" fill="none" stroke="#8e8e8e" stroke-width="4" stroke-linecap="round" opacity="0.7"/><path d="M-17.5,15 C-17.5,4 -10,-1 0,-1 C10,-1 17.5,4 17.5,15 C18.5,26 20,34 22,44 C24.5,58 25.5,72 25.5,87 C25.5,101 21,108 12,110 C5,111.5 -5,111.5 -12,110 C-21,108 -25.5,101 -25.5,87 C-25.5,72 -24.5,58 -22,44 C-20,34 -18.5,26 -17.5,15 Z" fill="#8e8e8e"/><path d="M-17.5,15 C-17.5,4 -10,-1 0,-1 C10,-1 17.5,4 17.5,15 C18.5,26 20,34 22,44 C24.5,58 25.5,72 25.5,87 C25.5,101 21,108 12,110 C5,111.5 -5,111.5 -12,110 C-21,108 -25.5,101 -25.5,87 C-25.5,72 -24.5,58 -22,44 C-20,34 -18.5,26 -17.5,15 Z" fill="url(#mshade)"/><g filter="url(#rough)"><ellipse cx="-5" cy="25" rx="4" ry="6" fill="url(#jblue)" transform="rotate(0 -5 25)"/><ellipse cx="-7" cy="38" rx="3" ry="3" fill="url(#jlow)" transform="rotate(0 -7 38)"/><ellipse cx="12" cy="33" rx="3" ry="2" fill="url(#jblue)" transform="rotate(0 12 33)"/><ellipse cx="16" cy="83" rx="11.5" ry="11.2" fill="url(#jhot)" transform="rotate(0 16 83)"/><ellipse cx="-23" cy="83" rx="3" ry="5" fill="url(#jblue)" transform="rotate(0 -23 83)"/><ellipse cx="0" cy="98" rx="16" ry="8" fill="url(#gbright)" transform="rotate(0 0 98)"/></g></g>
<g transform="translate(1293.7,921.1) scale(1.05,1)"><path d="M0,106 C1,125 2,145 4,158.9" fill="none" stroke="#8c8c8c" stroke-width="3.4" stroke-linecap="round" opacity="0.8"/><path d="M-19,103 C-22,106 -25,109 -27,113 M19,103 C22,106 25,109 27,113" fill="none" stroke="#8c8c8c" stroke-width="4" stroke-linecap="round" opacity="0.7"/><path d="M-17.5,15 C-17.5,4 -10,-1 0,-1 C10,-1 17.5,4 17.5,15 C18.5,26 20,34 22,44 C24.5,58 25.5,72 25.5,87 C25.5,101 21,108 12,110 C5,111.5 -5,111.5 -12,110 C-21,108 -25.5,101 -25.5,87 C-25.5,72 -24.5,58 -22,44 C-20,34 -18.5,26 -17.5,15 Z" fill="#8c8c8c"/><path d="M-17.5,15 C-17.5,4 -10,-1 0,-1 C10,-1 17.5,4 17.5,15 C18.5,26 20,34 22,44 C24.5,58 25.5,72 25.5,87 C25.5,101 21,108 12,110 C5,111.5 -5,111.5 -12,110 C-21,108 -25.5,101 -25.5,87 C-25.5,72 -24.5,58 -22,44 C-20,34 -18.5,26 -17.5,15 Z" fill="url(#mshade)"/><g filter="url(#rough)"><ellipse cx="-10" cy="16" rx="4" ry="3" fill="url(#jblue)" transform="rotate(0 -10 16)"/><ellipse cx="2" cy="22" rx="4" ry="4" fill="url(#jlow)" transform="rotate(0 2 22)"/><ellipse cx="3" cy="36" rx="3" ry="5" fill="url(#jlow)" transform="rotate(0 3 36)"/><ellipse cx="3" cy="60" rx="3" ry="3" fill="url(#jmed)" transform="rotate(0 3 60)"/><ellipse cx="-20" cy="85" rx="6" ry="11" fill="url(#jmed)" transform="rotate(0 -20 85)"/><ellipse cx="0" cy="98" rx="16" ry="8" fill="url(#gbright)" transform="rotate(0 0 98)"/></g></g>
</g>
<rect x="1029" y="873.7" width="306.5" height="201.8" fill="url(#panelvig)"/>
<text x="1218.5" y="909.7" font-size="31" fill="#3cc43c">combo</text>
<line x1="1515.1" y1="656.6" x2="1515.1" y2="1071.5" stroke="#000" stroke-width="2" />
<line x1="1504.6" y1="1071.5" x2="1932.3" y2="1071.5" stroke="#000" stroke-width="2" />
<line x1="1504.6" y1="1071.5" x2="1515.1" y2="1071.5" stroke="#000" stroke-width="2" />
<text x="1498.5" y="1078.5" font-size="26.5" text-anchor="end">0</text>
<line x1="1504.6" y1="933.2" x2="1515.1" y2="933.2" stroke="#000" stroke-width="2" />
<text x="1498.5" y="943.2" font-size="26.5" text-anchor="end">1</text>
<line x1="1504.6" y1="794.9" x2="1515.1" y2="794.9" stroke="#000" stroke-width="2" />
<text x="1498.5" y="804.4" font-size="26.5" text-anchor="end">2</text>
<line x1="1504.6" y1="656.6" x2="1515.1" y2="656.6" stroke="#000" stroke-width="2" />
<text x="1498.5" y="678.5" font-size="26.5" text-anchor="end">3</text>
<line x1="1515.1" y1="1071.5" x2="1515.1" y2="1083.7" stroke="#000" stroke-width="2" />
<text x="1515.1" y="1116.3" font-size="26.8" text-anchor="middle">0</text>
<line x1="1608.3" y1="1071.5" x2="1608.3" y2="1083.7" stroke="#000" stroke-width="2" />
<text x="1608.3" y="1116.3" font-size="26.8" text-anchor="middle">8</text>
<line x1="1699.9" y1="1071.5" x2="1699.9" y2="1083.7" stroke="#000" stroke-width="2" />
<text x="1699.9" y="1116.3" font-size="26.8" text-anchor="middle">15</text>
<line x1="1791.8" y1="1071.5" x2="1791.8" y2="1083.7" stroke="#000" stroke-width="2" />
<text x="1791.8" y="1116.3" font-size="26.8" text-anchor="middle">22</text>
<line x1="1884.4" y1="1071.5" x2="1884.4" y2="1083.7" stroke="#000" stroke-width="2" />
<text x="1884.4" y="1116.3" font-size="26.8" text-anchor="middle">29</text>
<text x="1657.8" y="1152.3" font-size="29.5" textLength="110" lengthAdjust="spacingAndGlyphs">Time (d)</text>
<text transform="translate(1457,978.3) rotate(-90)" x="0" y="0" font-size="25" textLength="217" lengthAdjust="spacingAndGlyphs">ph/s/cm²/sr (x10⁷)</text>
<text x="1529.5" y="685.2" font-size="31" textLength="163" lengthAdjust="spacingAndGlyphs">HL-60 Luc+</text>
<polyline points="1515.1,1071.5 1608.3,1071.5 1699.9,1070.12 1791.8,1020.33 1884.4,959.48" fill="none" stroke="#108a10" stroke-width="2"/>
<line x1="1791.8" y1="1027.24" x2="1791.8" y2="1014.8" stroke="#108a10" stroke-width="2.6" />
<line x1="1786.8" y1="1027.24" x2="1796.8" y2="1027.24" stroke="#108a10" stroke-width="2.6" />
<line x1="1786.8" y1="1014.8" x2="1796.8" y2="1014.8" stroke="#108a10" stroke-width="2.6" />
<line x1="1884.4" y1="982.16" x2="1884.4" y2="936.24" stroke="#108a10" stroke-width="2.6" />
<line x1="1879.4" y1="982.16" x2="1889.4" y2="982.16" stroke="#108a10" stroke-width="2.6" />
<line x1="1879.4" y1="936.24" x2="1889.4" y2="936.24" stroke="#108a10" stroke-width="2.6" />
<circle cx="1515.1" cy="1071.5" r="4.2" fill="#108a10" />
<circle cx="1608.3" cy="1071.5" r="4.2" fill="#108a10" />
<circle cx="1699.9" cy="1070.12" r="4.2" fill="#108a10" />
<circle cx="1791.8" cy="1020.33" r="4.2" fill="#108a10" />
<circle cx="1884.4" cy="959.48" r="4.2" fill="#108a10" />
<polyline points="1515.1,1071.5 1608.3,1071.5 1699.9,1069.29 1791.8,1006.5 1884.4,818.41" fill="none" stroke="#a01010" stroke-width="2"/>
<line x1="1791.8" y1="1016.18" x2="1791.8" y2="991.29" stroke="#a01010" stroke-width="2.6" />
<line x1="1786.8" y1="1016.18" x2="1796.8" y2="1016.18" stroke="#a01010" stroke-width="2.6" />
<line x1="1786.8" y1="991.29" x2="1796.8" y2="991.29" stroke="#a01010" stroke-width="2.6" />
<line x1="1884.4" y1="830.03" x2="1884.4" y2="763.09" stroke="#a01010" stroke-width="2.6" />
<line x1="1879.4" y1="830.03" x2="1889.4" y2="830.03" stroke="#a01010" stroke-width="2.6" />
<line x1="1879.4" y1="763.09" x2="1889.4" y2="763.09" stroke="#a01010" stroke-width="2.6" />
<circle cx="1515.1" cy="1071.5" r="4.2" fill="#a01010" />
<circle cx="1608.3" cy="1071.5" r="4.2" fill="#a01010" />
<circle cx="1699.9" cy="1069.29" r="4.2" fill="#a01010" />
<circle cx="1791.8" cy="1006.5" r="4.2" fill="#a01010" />
<circle cx="1884.4" cy="818.41" r="4.2" fill="#a01010" />
<polyline points="1515.1,1071.5 1608.3,1071.5 1699.9,1059.05 1791.8,969.16 1884.4,775.54" fill="none" stroke="#ff6a10" stroke-width="2"/>
<line x1="1791.8" y1="974.69" x2="1791.8" y2="963.63" stroke="#ff6a10" stroke-width="2.6" />
<line x1="1786.8" y1="974.69" x2="1796.8" y2="974.69" stroke="#ff6a10" stroke-width="2.6" />
<line x1="1786.8" y1="963.63" x2="1796.8" y2="963.63" stroke="#ff6a10" stroke-width="2.6" />
<line x1="1884.4" y1="830.03" x2="1884.4" y2="720.22" stroke="#ff6a10" stroke-width="2.6" />
<line x1="1879.4" y1="830.03" x2="1889.4" y2="830.03" stroke="#ff6a10" stroke-width="2.6" />
<line x1="1879.4" y1="720.22" x2="1889.4" y2="720.22" stroke="#ff6a10" stroke-width="2.6" />
<circle cx="1515.1" cy="1071.5" r="4.2" fill="#ff6a10" />
<circle cx="1608.3" cy="1071.5" r="4.2" fill="#ff6a10" />
<circle cx="1699.9" cy="1059.05" r="4.2" fill="#ff6a10" />
<circle cx="1791.8" cy="969.16" r="4.2" fill="#ff6a10" />
<circle cx="1884.4" cy="775.54" r="4.2" fill="#ff6a10" />
<polyline points="1515.1,1071.5 1608.3,1071.5 1699.9,1064.59 1791.8,974.69 1884.4,803.2" fill="none" stroke="#1414c8" stroke-width="2"/>
<line x1="1791.8" y1="1002.35" x2="1791.8" y2="948" stroke="#1414c8" stroke-width="2.6" />
<line x1="1786.8" y1="1002.35" x2="1796.8" y2="1002.35" stroke="#1414c8" stroke-width="2.6" />
<line x1="1786.8" y1="948" x2="1796.8" y2="948" stroke="#1414c8" stroke-width="2.6" />
<line x1="1884.4" y1="874.56" x2="1884.4" y2="730.31" stroke="#1414c8" stroke-width="2.6" />
<line x1="1879.4" y1="874.56" x2="1889.4" y2="874.56" stroke="#1414c8" stroke-width="2.6" />
<line x1="1879.4" y1="730.31" x2="1889.4" y2="730.31" stroke="#1414c8" stroke-width="2.6" />
<circle cx="1515.1" cy="1071.5" r="4.2" fill="#1414c8" />
<circle cx="1608.3" cy="1071.5" r="4.2" fill="#1414c8" />
<circle cx="1699.9" cy="1064.59" r="4.2" fill="#1414c8" />
<circle cx="1791.8" cy="974.69" r="4.2" fill="#1414c8" />
<circle cx="1884.4" cy="803.2" r="4.2" fill="#1414c8" />
<line x1="1530" y1="710.9" x2="1571.6" y2="710.9" stroke="#1414c8" stroke-width="2" />
<circle cx="1550.9" cy="710.9" r="4" fill="#1414c8" />
<text x="1581.2" y="721.4" font-size="30" fill="#1414c8" textLength="97" lengthAdjust="spacingAndGlyphs">vehicle</text>
<line x1="1530" y1="740.8" x2="1571.6" y2="740.8" stroke="#a01010" stroke-width="2" />
<circle cx="1550.9" cy="740.8" r="4" fill="#a01010" />
<text x="1581.2" y="751.3" font-size="30" fill="#a01010" textLength="150" lengthAdjust="spacingAndGlyphs">Trametinib</text>
<line x1="1530" y1="770.7" x2="1571.6" y2="770.7" stroke="#ff6a10" stroke-width="2" />
<circle cx="1550.9" cy="770.7" r="4" fill="#ff6a10" />
<text x="1581.2" y="781.2" font-size="30" fill="#ff6a10" textLength="137" lengthAdjust="spacingAndGlyphs">pyrvinium</text>
<line x1="1530" y1="800.6" x2="1571.6" y2="800.6" stroke="#108a10" stroke-width="2" />
<circle cx="1550.9" cy="800.6" r="4" fill="#108a10" />
<text x="1581.2" y="811.1" font-size="30" fill="#108a10" textLength="95.5" lengthAdjust="spacingAndGlyphs">combo</text>
<text x="1900.4" y="780" font-size="27" fill="#10a050" textLength="27" lengthAdjust="spacingAndGlyphs" font-weight="bold">**</text>
<text x="1900.4" y="811.8" font-size="27" fill="#10a050" textLength="40" lengthAdjust="spacingAndGlyphs" font-weight="bold">***</text>
<text x="1900.4" y="834" font-size="27" fill="#10a050" textLength="40" lengthAdjust="spacingAndGlyphs" font-weight="bold">***</text>
<line x1="1512.6" y1="1148" x2="1512.6" y2="1179.4" stroke="#000" stroke-width="3" />
<polygon points="1512.6,1120 1498.1,1155 1512.6,1149 1527.1,1155" fill="#000"/>
<text x="1485.4" y="1213" font-size="27">Start</text>
<line x1="1857.9" y1="1148" x2="1857.9" y2="1179.4" stroke="#000" stroke-width="3" />
<polygon points="1857.9,1120 1843.4,1155 1857.9,1149 1872.4,1155" fill="#000"/>
<text x="1833.3" y="1213" font-size="27">Stop</text>
<text x="3" y="1300" font-size="68" textLength="29" lengthAdjust="spacingAndGlyphs" stroke="#000" stroke-width="1.1">E</text>
<ellipse cx="378" cy="1289.2" rx="28.5" ry="19" fill="#fff" stroke="#f5a3a3" stroke-width="1.1" transform="rotate(-8 378 1289.2)"/>
<ellipse cx="329" cy="1307.9" rx="32.6" ry="17.7" fill="#fff" stroke="#f5a3a3" stroke-width="1.1" transform="rotate(-8 329 1307.9)"/>
<ellipse cx="346.3" cy="1258.3" rx="32.3" ry="18" fill="#fff" stroke="#f5a3a3" stroke-width="1.1" transform="rotate(-10 346.3 1258.3)"/>
<ellipse cx="342.2" cy="1258.3" rx="18.7" ry="10" fill="#ebebeb" transform="rotate(-10 342.2 1258.3)"/>
<ellipse cx="318.6" cy="1282.2" rx="32" ry="18.4" fill="#fff" stroke="#f5a3a3" stroke-width="1.1" transform="rotate(-10 318.6 1282.2)"/>
<ellipse cx="314.4" cy="1281.9" rx="18.7" ry="10" fill="#ebebeb" transform="rotate(-10 314.4 1281.9)"/>
<text x="423.5" y="1259" font-size="31" textLength="65.5" lengthAdjust="spacingAndGlyphs">AML</text>
<text x="423.5" y="1301.4" font-size="31" textLength="102.5" lengthAdjust="spacingAndGlyphs">sample</text>
<line x1="118" y1="1325.4" x2="118" y2="1347.5" stroke="#f4868a" stroke-width="2.2" />
<polygon points="118,1359 112.2,1347.5 123.8,1347.5" fill="#f4868a"/>
<line x1="261.3" y1="1325.4" x2="261.3" y2="1347.5" stroke="#f4868a" stroke-width="2.2" />
<polygon points="261.3,1359 255.5,1347.5 267.1,1347.5" fill="#f4868a"/>
<line x1="406.7" y1="1325.4" x2="406.7" y2="1347.5" stroke="#f4868a" stroke-width="2.2" />
<polygon points="406.7,1359 400.9,1347.5 412.5,1347.5" fill="#f4868a"/>
<line x1="553.3" y1="1325.4" x2="553.3" y2="1347.5" stroke="#f4868a" stroke-width="2.2" />
<polygon points="553.3,1359 547.5,1347.5 559.1,1347.5" fill="#f4868a"/>
<line x1="118" y1="1475" x2="118" y2="1497.2" stroke="#f4868a" stroke-width="2.2" />
<polygon points="118,1508.7 112.2,1497.2 123.8,1497.2" fill="#f4868a"/>
<line x1="261.3" y1="1475" x2="261.3" y2="1497.2" stroke="#f4868a" stroke-width="2.2" />
<polygon points="261.3,1508.7 255.5,1497.2 267.1,1497.2" fill="#f4868a"/>
<line x1="406.7" y1="1475" x2="406.7" y2="1497.2" stroke="#f4868a" stroke-width="2.2" />
<polygon points="406.7,1508.7 400.9,1497.2 412.5,1497.2" fill="#f4868a"/>
<line x1="553.3" y1="1475" x2="553.3" y2="1497.2" stroke="#f4868a" stroke-width="2.2" />
<polygon points="553.3,1508.7 547.5,1497.2 559.1,1497.2" fill="#f4868a"/>
<line x1="118" y1="1550.8" x2="118" y2="1573" stroke="#f4868a" stroke-width="2.2" />
<polygon points="118,1584.5 112.2,1573 123.8,1573" fill="#f4868a"/>
<line x1="261.3" y1="1550.8" x2="261.3" y2="1573" stroke="#f4868a" stroke-width="2.2" />
<polygon points="261.3,1584.5 255.5,1573 267.1,1573" fill="#f4868a"/>
<line x1="406.7" y1="1550.8" x2="406.7" y2="1573" stroke="#f4868a" stroke-width="2.2" />
<polygon points="406.7,1584.5 400.9,1573 412.5,1573" fill="#f4868a"/>
<line x1="553.3" y1="1550.8" x2="553.3" y2="1573" stroke="#f4868a" stroke-width="2.2" />
<polygon points="553.3,1584.5 547.5,1573 559.1,1573" fill="#f4868a"/>
<line x1="118" y1="1616" x2="118" y2="1638.5" stroke="#f4868a" stroke-width="2.2" />
<polygon points="118,1650 112.2,1638.5 123.8,1638.5" fill="#f4868a"/>
<line x1="261.3" y1="1616" x2="261.3" y2="1638.5" stroke="#f4868a" stroke-width="2.2" />
<polygon points="261.3,1650 255.5,1638.5 267.1,1638.5" fill="#f4868a"/>
<line x1="406.7" y1="1616" x2="406.7" y2="1638.5" stroke="#f4868a" stroke-width="2.2" />
<polygon points="406.7,1650 400.9,1638.5 412.5,1638.5" fill="#f4868a"/>
<line x1="553.3" y1="1616" x2="553.3" y2="1638.5" stroke="#f4868a" stroke-width="2.2" />
<polygon points="553.3,1650 547.5,1638.5 559.1,1638.5" fill="#f4868a"/>
<line x1="118" y1="1692.8" x2="118" y2="1716.3" stroke="#f4868a" stroke-width="2.2" />
<polygon points="118,1727.8 112.2,1716.3 123.8,1716.3" fill="#f4868a"/>
<line x1="261.3" y1="1692.8" x2="261.3" y2="1716.3" stroke="#f4868a" stroke-width="2.2" />
<polygon points="261.3,1727.8 255.5,1716.3 267.1,1716.3" fill="#f4868a"/>
<line x1="406.7" y1="1692.8" x2="406.7" y2="1716.3" stroke="#f4868a" stroke-width="2.2" />
<polygon points="406.7,1727.8 400.9,1716.3 412.5,1716.3" fill="#f4868a"/>
<line x1="553.3" y1="1692.8" x2="553.3" y2="1716.3" stroke="#f4868a" stroke-width="2.2" />
<polygon points="553.3,1727.8 547.5,1716.3 559.1,1716.3" fill="#f4868a"/>
<g transform="translate(43,1355.9) scale(0.07850)" stroke-linejoin="round" stroke-linecap="round"><path d="M265,800 C140,880 50,1080 190,1210 C390,1360 880,1365 1190,1360 C1450,1362 1650,1430 1790,1550" fill="none" stroke="#333" stroke-width="50"/><path d="M265,800 C140,880 50,1080 190,1210 C390,1360 880,1365 1190,1360 C1450,1362 1650,1430 1790,1550" fill="none" stroke="#f4f4f5" stroke-width="31"/><path d="M255,745 C270,560 330,400 450,290 C560,200 700,170 830,172 C960,175 1080,200 1150,225 C1200,240 1235,262 1250,268 C1238,200 1236,120 1262,78 C1290,62 1350,110 1385,165 C1410,205 1415,250 1420,280 C1460,350 1510,420 1560,490 C1590,560 1600,620 1625,680 C1650,715 1660,755 1640,775 C1600,800 1540,805 1500,795 C1420,785 1300,775 1245,795 C1195,830 1180,890 1205,935 C1240,985 1300,1040 1340,1075 C1330,1105 1290,1120 1265,1110 C1185,1055 1080,985 1000,925 C920,935 850,945 800,955 C800,995 770,1035 735,1050 C690,1025 640,1000 600,985 C520,935 420,895 350,880 C300,878 265,870 250,860 Z" fill="#ebebed" stroke="#333" stroke-width="12"/><path d="M330,830 C500,800 800,800 1000,830 C1100,850 1180,800 1210,700 C1240,800 1220,900 1190,930 C1100,940 950,960 800,955 C650,950 450,900 330,830 Z" fill="#d9dadd"/><path d="M1020,560 C1080,600 1150,620 1240,560 C1300,640 1320,700 1330,770 C1280,780 1240,795 1220,820 C1150,760 1060,700 1020,560 Z" fill="#dfe0e3"/><ellipse cx="1135" cy="370" rx="112" ry="150" transform="rotate(-28 1135 370)" fill="#efeff1" stroke="#333" stroke-width="11"/><path d="M1070,300 C1090,265 1150,265 1200,300" fill="none" stroke="#d6d6da" stroke-width="12"/><ellipse cx="1425" cy="595" rx="40" ry="36" fill="#333"/><circle cx="1415" cy="585" r="12" fill="#aaa"/><line x1="1505" y1="790" x2="1345" y2="845" stroke="#666" stroke-width="5"/><line x1="1505" y1="790" x2="1385" y2="905" stroke="#666" stroke-width="5"/><line x1="1505" y1="790" x2="1420" y2="945" stroke="#666" stroke-width="5"/><line x1="1505" y1="790" x2="1460" y2="965" stroke="#666" stroke-width="5"/><line x1="1505" y1="790" x2="1500" y2="960" stroke="#666" stroke-width="5"/><line x1="1640" y1="680" x2="1670" y2="600" stroke="#555" stroke-width="5"/><line x1="1640" y1="680" x2="1690" y2="660" stroke="#555" stroke-width="5"/><line x1="1640" y1="680" x2="1680" y2="700" stroke="#555" stroke-width="5"/><path d="M1200,900 C1250,930 1300,940 1330,980 M1240,1020 C1280,1040 1320,1060 1340,1090 M600,960 C620,990 630,1020 635,1030 M680,975 C700,1000 720,1030 735,1050 M740,960 C770,980 790,990 805,1000" fill="none" stroke="#444" stroke-width="7"/></g>
<g transform="translate(187.5,1355.9) scale(0.07850)" stroke-linejoin="round" stroke-linecap="round"><path d="M265,800 C140,880 50,1080 190,1210 C390,1360 880,1365 1190,1360 C1450,1362 1650,1430 1790,1550" fill="none" stroke="#333" stroke-width="50"/><path d="M265,800 C140,880 50,1080 190,1210 C390,1360 880,1365 1190,1360 C1450,1362 1650,1430 1790,1550" fill="none" stroke="#f4f4f5" stroke-width="31"/><path d="M255,745 C270,560 330,400 450,290 C560,200 700,170 830,172 C960,175 1080,200 1150,225 C1200,240 1235,262 1250,268 C1238,200 1236,120 1262,78 C1290,62 1350,110 1385,165 C1410,205 1415,250 1420,280 C1460,350 1510,420 1560,490 C1590,560 1600,620 1625,680 C1650,715 1660,755 1640,775 C1600,800 1540,805 1500,795 C1420,785 1300,775 1245,795 C1195,830 1180,890 1205,935 C1240,985 1300,1040 1340,1075 C1330,1105 1290,1120 1265,1110 C1185,1055 1080,985 1000,925 C920,935 850,945 800,955 C800,995 770,1035 735,1050 C690,1025 640,1000 600,985 C520,935 420,895 350,880 C300,878 265,870 250,860 Z" fill="#ebebed" stroke="#333" stroke-width="12"/><path d="M330,830 C500,800 800,800 1000,830 C1100,850 1180,800 1210,700 C1240,800 1220,900 1190,930 C1100,940 950,960 800,955 C650,950 450,900 330,830 Z" fill="#d9dadd"/><path d="M1020,560 C1080,600 1150,620 1240,560 C1300,640 1320,700 1330,770 C1280,780 1240,795 1220,820 C1150,760 1060,700 1020,560 Z" fill="#dfe0e3"/><ellipse cx="1135" cy="370" rx="112" ry="150" transform="rotate(-28 1135 370)" fill="#efeff1" stroke="#333" stroke-width="11"/><path d="M1070,300 C1090,265 1150,265 1200,300" fill="none" stroke="#d6d6da" stroke-width="12"/><ellipse cx="1425" cy="595" rx="40" ry="36" fill="#333"/><circle cx="1415" cy="585" r="12" fill="#aaa"/><line x1="1505" y1="790" x2="1345" y2="845" stroke="#666" stroke-width="5"/><line x1="1505" y1="790" x2="1385" y2="905" stroke="#666" stroke-width="5"/><line x1="1505" y1="790" x2="1420" y2="945" stroke="#666" stroke-width="5"/><line x1="1505" y1="790" x2="1460" y2="965" stroke="#666" stroke-width="5"/><line x1="1505" y1="790" x2="1500" y2="960" stroke="#666" stroke-width="5"/><line x1="1640" y1="680" x2="1670" y2="600" stroke="#555" stroke-width="5"/><line x1="1640" y1="680" x2="1690" y2="660" stroke="#555" stroke-width="5"/><line x1="1640" y1="680" x2="1680" y2="700" stroke="#555" stroke-width="5"/><path d="M1200,900 C1250,930 1300,940 1330,980 M1240,1020 C1280,1040 1320,1060 1340,1090 M600,960 C620,990 630,1020 635,1030 M680,975 C700,1000 720,1030 735,1050 M740,960 C770,980 790,990 805,1000" fill="none" stroke="#444" stroke-width="7"/></g>
<g transform="translate(332.9,1355.9) scale(0.07850)" stroke-linejoin="round" stroke-linecap="round"><path d="M265,800 C140,880 50,1080 190,1210 C390,1360 880,1365 1190,1360 C1450,1362 1650,1430 1790,1550" fill="none" stroke="#333" stroke-width="50"/><path d="M265,800 C140,880 50,1080 190,1210 C390,1360 880,1365 1190,1360 C1450,1362 1650,1430 1790,1550" fill="none" stroke="#f4f4f5" stroke-width="31"/><path d="M255,745 C270,560 330,400 450,290 C560,200 700,170 830,172 C960,175 1080,200 1150,225 C1200,240 1235,262 1250,268 C1238,200 1236,120 1262,78 C1290,62 1350,110 1385,165 C1410,205 1415,250 1420,280 C1460,350 1510,420 1560,490 C1590,560 1600,620 1625,680 C1650,715 1660,755 1640,775 C1600,800 1540,805 1500,795 C1420,785 1300,775 1245,795 C1195,830 1180,890 1205,935 C1240,985 1300,1040 1340,1075 C1330,1105 1290,1120 1265,1110 C1185,1055 1080,985 1000,925 C920,935 850,945 800,955 C800,995 770,1035 735,1050 C690,1025 640,1000 600,985 C520,935 420,895 350,880 C300,878 265,870 250,860 Z" fill="#ebebed" stroke="#333" stroke-width="12"/><path d="M330,830 C500,800 800,800 1000,830 C1100,850 1180,800 1210,700 C1240,800 1220,900 1190,930 C1100,940 950,960 800,955 C650,950 450,900 330,830 Z" fill="#d9dadd"/><path d="M1020,560 C1080,600 1150,620 1240,560 C1300,640 1320,700 1330,770 C1280,780 1240,795 1220,820 C1150,760 1060,700 1020,560 Z" fill="#dfe0e3"/><ellipse cx="1135" cy="370" rx="112" ry="150" transform="rotate(-28 1135 370)" fill="#efeff1" stroke="#333" stroke-width="11"/><path d="M1070,300 C1090,265 1150,265 1200,300" fill="none" stroke="#d6d6da" stroke-width="12"/><ellipse cx="1425" cy="595" rx="40" ry="36" fill="#333"/><circle cx="1415" cy="585" r="12" fill="#aaa"/><line x1="1505" y1="790" x2="1345" y2="845" stroke="#666" stroke-width="5"/><line x1="1505" y1="790" x2="1385" y2="905" stroke="#666" stroke-width="5"/><line x1="1505" y1="790" x2="1420" y2="945" stroke="#666" stroke-width="5"/><line x1="1505" y1="790" x2="1460" y2="965" stroke="#666" stroke-width="5"/><line x1="1505" y1="790" x2="1500" y2="960" stroke="#666" stroke-width="5"/><line x1="1640" y1="680" x2="1670" y2="600" stroke="#555" stroke-width="5"/><line x1="1640" y1="680" x2="1690" y2="660" stroke="#555" stroke-width="5"/><line x1="1640" y1="680" x2="1680" y2="700" stroke="#555" stroke-width="5"/><path d="M1200,900 C1250,930 1300,940 1330,980 M1240,1020 C1280,1040 1320,1060 1340,1090 M600,960 C620,990 630,1020 635,1030 M680,975 C700,1000 720,1030 735,1050 M740,960 C770,980 790,990 805,1000" fill="none" stroke="#444" stroke-width="7"/></g>
<g transform="translate(479.1,1355.9) scale(0.07850)" stroke-linejoin="round" stroke-linecap="round"><path d="M265,800 C140,880 50,1080 190,1210 C390,1360 880,1365 1190,1360 C1450,1362 1650,1430 1790,1550" fill="none" stroke="#333" stroke-width="50"/><path d="M265,800 C140,880 50,1080 190,1210 C390,1360 880,1365 1190,1360 C1450,1362 1650,1430 1790,1550" fill="none" stroke="#f4f4f5" stroke-width="31"/><path d="M255,745 C270,560 330,400 450,290 C560,200 700,170 830,172 C960,175 1080,200 1150,225 C1200,240 1235,262 1250,268 C1238,200 1236,120 1262,78 C1290,62 1350,110 1385,165 C1410,205 1415,250 1420,280 C1460,350 1510,420 1560,490 C1590,560 1600,620 1625,680 C1650,715 1660,755 1640,775 C1600,800 1540,805 1500,795 C1420,785 1300,775 1245,795 C1195,830 1180,890 1205,935 C1240,985 1300,1040 1340,1075 C1330,1105 1290,1120 1265,1110 C1185,1055 1080,985 1000,925 C920,935 850,945 800,955 C800,995 770,1035 735,1050 C690,1025 640,1000 600,985 C520,935 420,895 350,880 C300,878 265,870 250,860 Z" fill="#ebebed" stroke="#333" stroke-width="12"/><path d="M330,830 C500,800 800,800 1000,830 C1100,850 1180,800 1210,700 C1240,800 1220,900 1190,930 C1100,940 950,960 800,955 C650,950 450,900 330,830 Z" fill="#d9dadd"/><path d="M1020,560 C1080,600 1150,620 1240,560 C1300,640 1320,700 1330,770 C1280,780 1240,795 1220,820 C1150,760 1060,700 1020,560 Z" fill="#dfe0e3"/><ellipse cx="1135" cy="370" rx="112" ry="150" transform="rotate(-28 1135 370)" fill="#efeff1" stroke="#333" stroke-width="11"/><path d="M1070,300 C1090,265 1150,265 1200,300" fill="none" stroke="#d6d6da" stroke-width="12"/><ellipse cx="1425" cy="595" rx="40" ry="36" fill="#333"/><circle cx="1415" cy="585" r="12" fill="#aaa"/><line x1="1505" y1="790" x2="1345" y2="845" stroke="#666" stroke-width="5"/><line x1="1505" y1="790" x2="1385" y2="905" stroke="#666" stroke-width="5"/><line x1="1505" y1="790" x2="1420" y2="945" stroke="#666" stroke-width="5"/><line x1="1505" y1="790" x2="1460" y2="965" stroke="#666" stroke-width="5"/><line x1="1505" y1="790" x2="1500" y2="960" stroke="#666" stroke-width="5"/><line x1="1640" y1="680" x2="1670" y2="600" stroke="#555" stroke-width="5"/><line x1="1640" y1="680" x2="1690" y2="660" stroke="#555" stroke-width="5"/><line x1="1640" y1="680" x2="1680" y2="700" stroke="#555" stroke-width="5"/><path d="M1200,900 C1250,930 1300,940 1330,980 M1240,1020 C1280,1040 1320,1060 1340,1090 M600,960 C620,990 630,1020 635,1030 M680,975 C700,1000 720,1030 735,1050 M740,960 C770,980 790,990 805,1000" fill="none" stroke="#444" stroke-width="7"/></g>
<rect x="63.2" y="1510.8" width="539.4" height="37.1" fill="#c5e0b4"/>
<text x="164.3" y="1542.4" font-size="32.5" textLength="337" lengthAdjust="spacingAndGlyphs">Day 20: start treatment</text>
<text x="65.3" y="1609.8" font-size="32.5" textLength="103.3" lengthAdjust="spacingAndGlyphs">Vehicle</text>
<text x="217" y="1609.8" font-size="32.5" textLength="87.3" lengthAdjust="spacingAndGlyphs">Trame</text>
<text x="375" y="1609.8" font-size="32.5" textLength="62" lengthAdjust="spacingAndGlyphs">Pyrv</text>
<text x="501.5" y="1609.8" font-size="32.5" textLength="102" lengthAdjust="spacingAndGlyphs">Combo</text>
<rect x="66.2" y="1653.2" width="539.4" height="36.8" fill="#ffe699"/>
<text x="170.7" y="1684.5" font-size="32.5" textLength="331.6" lengthAdjust="spacingAndGlyphs">Day 45: stop treatment</text>
<rect x="67.4" y="1732" width="539.4" height="37" fill="#fbe5d6"/>
<text x="221.2" y="1763.3" font-size="32.5" textLength="232.7" lengthAdjust="spacingAndGlyphs">Day 57: sacrifice</text>
<line x1="611.5" y1="1547.9" x2="640" y2="1547.9" stroke="#ff0000" stroke-width="2.2" />
<polygon points="652,1547.9 640,1553.9 640,1541.9" fill="#ff0000"/>
<line x1="611.5" y1="1595" x2="640" y2="1595" stroke="#ff0000" stroke-width="2.2" />
<polygon points="652,1595 640,1601 640,1589" fill="#ff0000"/>
<line x1="611.5" y1="1643.5" x2="640" y2="1643.5" stroke="#ff0000" stroke-width="2.2" />
<polygon points="652,1643.5 640,1649.5 640,1637.5" fill="#ff0000"/>
<line x1="611.5" y1="1692" x2="640" y2="1692" stroke="#ff0000" stroke-width="2.2" />
<polygon points="652,1692 640,1698 640,1686" fill="#ff0000"/>
<line x1="611.5" y1="1751" x2="640" y2="1751" stroke="#1670c0" stroke-width="2.2" />
<polygon points="652,1751 640,1757 640,1745" fill="#1670c0"/>
<text x="662.4" y="1565.7" font-size="32.5" fill="#ff0000" textLength="137" lengthAdjust="spacingAndGlyphs">Cirulating</text>
<text x="662.4" y="1608.5" font-size="32.5" fill="#ff0000" textLength="102.4" lengthAdjust="spacingAndGlyphs">Human</text>
<text x="662.4" y="1652" font-size="32.5" fill="#ff0000" textLength="139.1" lengthAdjust="spacingAndGlyphs">Blast cells</text>
<text x="662.4" y="1694" font-size="32.5" fill="#ff0000" textLength="112.1" lengthAdjust="spacingAndGlyphs">hCD33+</text>
<text x="662.4" y="1741.7" font-size="32.5" fill="#1670c0" textLength="91.9" lengthAdjust="spacingAndGlyphs">Tumor</text>
<text x="662.4" y="1782.6" font-size="32.5" fill="#1670c0" textLength="102.4" lengthAdjust="spacingAndGlyphs">burden</text>
<text x="844.4" y="1298.6" font-size="68" textLength="26" lengthAdjust="spacingAndGlyphs" stroke="#000" stroke-width="1.1">F</text>
<text x="1008.9" y="1288.5" font-size="30" textLength="286" lengthAdjust="spacingAndGlyphs">PDX#1 <tspan font-style="italic">NRAS</tspan> Q61R</text>
<line x1="992.2" y1="1317" x2="992.2" y2="1717.3" stroke="#000" stroke-width="2" />
<line x1="992.2" y1="1717.3" x2="1391.9" y2="1717.3" stroke="#000" stroke-width="2" />
<line x1="980.3" y1="1717.3" x2="992.2" y2="1717.3" stroke="#000" stroke-width="2" />
<text x="978.3" y="1725.7" font-size="24.6" text-anchor="end">0</text>
<line x1="980.3" y1="1660.12" x2="992.2" y2="1660.12" stroke="#000" stroke-width="2" />
<text x="978.3" y="1668.52" font-size="24.6" text-anchor="end">25</text>
<line x1="980.3" y1="1602.93" x2="992.2" y2="1602.93" stroke="#000" stroke-width="2" />
<text x="978.3" y="1611.33" font-size="24.6" text-anchor="end">50</text>
<line x1="980.3" y1="1545.74" x2="992.2" y2="1545.74" stroke="#000" stroke-width="2" />
<text x="978.3" y="1554.14" font-size="24.6" text-anchor="end">75</text>
<line x1="980.3" y1="1488.56" x2="992.2" y2="1488.56" stroke="#000" stroke-width="2" />
<text x="978.3" y="1496.96" font-size="24.6" text-anchor="end" textLength="37.6" lengthAdjust="spacingAndGlyphs">100</text>
<line x1="980.3" y1="1431.38" x2="992.2" y2="1431.38" stroke="#000" stroke-width="2" />
<text x="978.3" y="1439.78" font-size="24.6" text-anchor="end" textLength="37.6" lengthAdjust="spacingAndGlyphs">125</text>
<line x1="980.3" y1="1374.19" x2="992.2" y2="1374.19" stroke="#000" stroke-width="2" />
<text x="978.3" y="1382.59" font-size="24.6" text-anchor="end" textLength="37.6" lengthAdjust="spacingAndGlyphs">150</text>
<line x1="980.3" y1="1317.01" x2="992.2" y2="1317.01" stroke="#000" stroke-width="2" />
<text x="978.3" y="1325.41" font-size="24.6" text-anchor="end" textLength="37.6" lengthAdjust="spacingAndGlyphs">175</text>
<line x1="992.2" y1="1717.3" x2="992.2" y2="1728.3" stroke="#000" stroke-width="2" />
<text x="992.2" y="1751.3" font-size="23.7" text-anchor="middle">20</text>
<line x1="1092.1" y1="1717.3" x2="1092.1" y2="1728.3" stroke="#000" stroke-width="2" />
<text x="1092.1" y="1751.3" font-size="23.7" text-anchor="middle">30</text>
<line x1="1192" y1="1717.3" x2="1192" y2="1728.3" stroke="#000" stroke-width="2" />
<text x="1192" y="1751.3" font-size="23.7" text-anchor="middle">40</text>
<line x1="1291.9" y1="1717.3" x2="1291.9" y2="1728.3" stroke="#000" stroke-width="2" />
<text x="1291.9" y="1751.3" font-size="23.7" text-anchor="middle">50</text>
<line x1="1391.8" y1="1717.3" x2="1391.8" y2="1728.3" stroke="#000" stroke-width="2" />
<text x="1391.8" y="1751.3" font-size="23.7" text-anchor="middle">60</text>
<text x="1137.7" y="1778.5" font-size="29.5" textLength="110.3" lengthAdjust="spacingAndGlyphs">Time (d)</text>
<text transform="translate(893.5,1579.5) rotate(-90)" x="0" y="0" font-size="27.5" textLength="97" lengthAdjust="spacingAndGlyphs">hCD33+</text>
<text transform="translate(924.5,1606.3) rotate(-90)" x="0" y="0" font-size="27.5" textLength="189" lengthAdjust="spacingAndGlyphs">(per µl of blood)</text>
<polyline points="992.2,1716.16 1132.06,1713.87 1271.92,1709.29 1341.85,1686.42" fill="none" stroke="#108a10" stroke-width="2"/>
<line x1="1341.85" y1="1691.45" x2="1341.85" y2="1682.3" stroke="#108a10" stroke-width="2.6" />
<line x1="1336.85" y1="1691.45" x2="1346.85" y2="1691.45" stroke="#108a10" stroke-width="2.6" />
<line x1="1336.85" y1="1682.3" x2="1346.85" y2="1682.3" stroke="#108a10" stroke-width="2.6" />
<circle cx="992.2" cy="1716.16" r="4.2" fill="#108a10" />
<circle cx="1132.06" cy="1713.87" r="4.2" fill="#108a10" />
<circle cx="1271.92" cy="1709.29" r="4.2" fill="#108a10" />
<circle cx="1341.85" cy="1686.42" r="4.2" fill="#108a10" />
<polyline points="992.2,1716.16 1132.06,1708.15 1271.92,1702.43 1341.85,1644.1" fill="none" stroke="#a01010" stroke-width="2"/>
<line x1="1341.85" y1="1654.63" x2="1341.85" y2="1634.04" stroke="#a01010" stroke-width="2.6" />
<line x1="1336.85" y1="1654.63" x2="1346.85" y2="1654.63" stroke="#a01010" stroke-width="2.6" />
<line x1="1336.85" y1="1634.04" x2="1346.85" y2="1634.04" stroke="#a01010" stroke-width="2.6" />
<circle cx="992.2" cy="1716.16" r="4.2" fill="#a01010" />
<circle cx="1132.06" cy="1708.15" r="4.2" fill="#a01010" />
<circle cx="1271.92" cy="1702.43" r="4.2" fill="#a01010" />
<circle cx="1341.85" cy="1644.1" r="4.2" fill="#a01010" />
<polyline points="992.2,1716.16 1132.06,1708.15 1271.92,1662.4 1341.85,1593.78" fill="none" stroke="#ff6a10" stroke-width="2"/>
<line x1="1271.92" y1="1678.41" x2="1271.92" y2="1646.39" stroke="#ff6a10" stroke-width="2.6" />
<line x1="1266.92" y1="1678.41" x2="1276.92" y2="1678.41" stroke="#ff6a10" stroke-width="2.6" />
<line x1="1266.92" y1="1646.39" x2="1276.92" y2="1646.39" stroke="#ff6a10" stroke-width="2.6" />
<line x1="1341.85" y1="1609.79" x2="1341.85" y2="1577.31" stroke="#ff6a10" stroke-width="2.6" />
<line x1="1336.85" y1="1609.79" x2="1346.85" y2="1609.79" stroke="#ff6a10" stroke-width="2.6" />
<line x1="1336.85" y1="1577.31" x2="1346.85" y2="1577.31" stroke="#ff6a10" stroke-width="2.6" />
<circle cx="992.2" cy="1716.16" r="4.2" fill="#ff6a10" />
<circle cx="1132.06" cy="1708.15" r="4.2" fill="#ff6a10" />
<circle cx="1271.92" cy="1662.4" r="4.2" fill="#ff6a10" />
<circle cx="1341.85" cy="1593.78" r="4.2" fill="#ff6a10" />
<polyline points="992.2,1716.16 1132.06,1699 1271.92,1612.08 1341.85,1387.23" fill="none" stroke="#1414c8" stroke-width="2"/>
<line x1="1271.92" y1="1627.41" x2="1271.92" y2="1596.98" stroke="#1414c8" stroke-width="2.6" />
<line x1="1266.92" y1="1627.41" x2="1276.92" y2="1627.41" stroke="#1414c8" stroke-width="2.6" />
<line x1="1266.92" y1="1596.98" x2="1276.92" y2="1596.98" stroke="#1414c8" stroke-width="2.6" />
<line x1="1341.85" y1="1424.06" x2="1341.85" y2="1358.86" stroke="#1414c8" stroke-width="2.6" />
<line x1="1336.85" y1="1424.06" x2="1346.85" y2="1424.06" stroke="#1414c8" stroke-width="2.6" />
<line x1="1336.85" y1="1358.86" x2="1346.85" y2="1358.86" stroke="#1414c8" stroke-width="2.6" />
<circle cx="992.2" cy="1716.16" r="4.2" fill="#1414c8" />
<circle cx="1132.06" cy="1699" r="4.2" fill="#1414c8" />
<circle cx="1271.92" cy="1612.08" r="4.2" fill="#1414c8" />
<circle cx="1341.85" cy="1387.23" r="4.2" fill="#1414c8" />
<line x1="998.9" y1="1318.6" x2="1041.4" y2="1318.6" stroke="#1414c8" stroke-width="2" />
<circle cx="1020" cy="1318.6" r="4" fill="#1414c8" />
<text x="1050.7" y="1329.1" font-size="30.5" fill="#1414c8" textLength="96.5" lengthAdjust="spacingAndGlyphs">vehicle</text>
<line x1="998.9" y1="1348.5" x2="1041.4" y2="1348.5" stroke="#a01010" stroke-width="2" />
<circle cx="1020" cy="1348.5" r="4" fill="#a01010" />
<text x="1050.7" y="1359" font-size="30.5" fill="#a01010" textLength="148.5" lengthAdjust="spacingAndGlyphs">Trametinib</text>
<line x1="998.9" y1="1378.4" x2="1041.4" y2="1378.4" stroke="#ff6a10" stroke-width="2" />
<circle cx="1020" cy="1378.4" r="4" fill="#ff6a10" />
<text x="1050.7" y="1388.9" font-size="30.5" fill="#ff6a10" textLength="135" lengthAdjust="spacingAndGlyphs">pyrvinium</text>
<line x1="998.9" y1="1408.3" x2="1041.4" y2="1408.3" stroke="#108a10" stroke-width="2" />
<circle cx="1020" cy="1408.3" r="4" fill="#108a10" />
<text x="1050.7" y="1418.8" font-size="30.5" fill="#108a10" textLength="95" lengthAdjust="spacingAndGlyphs">combo</text>
<text x="1351.7" y="1593" font-size="27" fill="#2a2aa0" textLength="39" lengthAdjust="spacingAndGlyphs" font-weight="bold">***</text>
<text x="1351.7" y="1606.5" font-size="27" fill="#c0103a" textLength="26" lengthAdjust="spacingAndGlyphs" font-weight="bold">**</text>
<text x="1351.7" y="1650.7" font-size="27" fill="#2a2aa0" textLength="39" lengthAdjust="spacingAndGlyphs" font-weight="bold">***</text>
<text x="1351.7" y="1680.8" font-size="27" fill="#2a2aa0" textLength="39" lengthAdjust="spacingAndGlyphs" font-weight="bold">***</text>
<text x="1351.7" y="1695" font-size="28" fill="#c0103a" textLength="28" lengthAdjust="spacingAndGlyphs">ns</text>
<text x="1351.7" y="1719.6" font-size="27" fill="#ff7a30" textLength="26" lengthAdjust="spacingAndGlyphs" font-weight="bold">**</text>
<line x1="995.5" y1="1783" x2="995.5" y2="1817" stroke="#000" stroke-width="3" />
<polygon points="995.5,1756.6 981,1790 995.5,1785 1010,1790" fill="#000"/>
<text x="967" y="1840.4" font-size="27">Start</text>
<line x1="1272.1" y1="1783" x2="1272.1" y2="1817" stroke="#000" stroke-width="3" />
<polygon points="1272.1,1756.6 1257.6,1790 1272.1,1785 1286.6,1790" fill="#000"/>
<text x="1248.7" y="1840.4" font-size="27">Stop</text>
<text x="1635.2" y="1350.2" font-size="30" textLength="201" lengthAdjust="spacingAndGlyphs">PDX#1 day 57</text>
<line x1="1600.8" y1="1373.6" x2="1600.8" y2="1717" stroke="#000" stroke-width="2" />
<line x1="1595.7" y1="1717" x2="1945.5" y2="1717" stroke="#000" stroke-width="2" />
<line x1="1594" y1="1717" x2="1600.8" y2="1717" stroke="#000" stroke-width="2" />
<text x="1591" y="1726.5" font-size="31" text-anchor="end">0</text>
<line x1="1594" y1="1631.14" x2="1600.8" y2="1631.14" stroke="#000" stroke-width="2" />
<text x="1591" y="1640.64" font-size="31" text-anchor="end">2</text>
<line x1="1594" y1="1545.28" x2="1600.8" y2="1545.28" stroke="#000" stroke-width="2" />
<text x="1591" y="1554.78" font-size="31" text-anchor="end">4</text>
<line x1="1594" y1="1459.42" x2="1600.8" y2="1459.42" stroke="#000" stroke-width="2" />
<text x="1591" y="1468.92" font-size="31" text-anchor="end">6</text>
<line x1="1594" y1="1373.56" x2="1600.8" y2="1373.56" stroke="#000" stroke-width="2" />
<text x="1591" y="1383.06" font-size="31" text-anchor="end">8</text>
<rect x="1628.8" y="1525.96" width="50.4" height="191.04" fill="#c9dcf5" stroke="#1010c8" stroke-width="1.6"/>
<rect x="1707.7" y="1677.5" width="50.9" height="39.5" fill="#fde0e0" stroke="#a01010" stroke-width="1.6"/>
<rect x="1786.5" y="1635.43" width="51.4" height="81.57" fill="#ffe3c8" stroke="#ff6a10" stroke-width="1.6"/>
<rect x="1865.9" y="1694.25" width="51.1" height="22.75" fill="#ccf5cc" stroke="#108a10" stroke-width="1.6"/>
<circle cx="1648.4" cy="1421.17" r="3.6" fill="#1010c8" />
<circle cx="1659.34" cy="1430.07" r="3.6" fill="#1010c8" />
<circle cx="1653.75" cy="1480.95" r="3.6" fill="#1010c8" />
<circle cx="1653.75" cy="1535.9" r="3.6" fill="#1010c8" />
<circle cx="1653.75" cy="1555.48" r="3.6" fill="#1010c8" />
<circle cx="1653.75" cy="1617.3" r="3.6" fill="#1010c8" />
<circle cx="1653.75" cy="1635.62" r="3.6" fill="#1010c8" />
<circle cx="1728.03" cy="1650.88" r="3.6" fill="#a01010" />
<circle cx="1738.2" cy="1655.97" r="3.6" fill="#a01010" />
<circle cx="1732.61" cy="1667.42" r="3.6" fill="#a01010" />
<circle cx="1717.85" cy="1678.86" r="3.6" fill="#a01010" />
<circle cx="1743.29" cy="1678.86" r="3.6" fill="#a01010" />
<circle cx="1732.61" cy="1682.68" r="3.6" fill="#a01010" />
<circle cx="1722.94" cy="1690.31" r="3.6" fill="#a01010" />
<circle cx="1743.29" cy="1690.82" r="3.6" fill="#a01010" />
<circle cx="1732.61" cy="1696.67" r="3.6" fill="#a01010" />
<circle cx="1811.98" cy="1535.9" r="3.6" fill="#ff6a10" />
<circle cx="1811.98" cy="1610.18" r="3.6" fill="#ff6a10" />
<circle cx="1811.98" cy="1621.63" r="3.6" fill="#ff6a10" />
<circle cx="1811.98" cy="1631.8" r="3.6" fill="#ff6a10" />
<circle cx="1811.98" cy="1647.06" r="3.6" fill="#ff6a10" />
<circle cx="1806.38" cy="1650.88" r="3.6" fill="#ff6a10" />
<circle cx="1817.06" cy="1660.55" r="3.6" fill="#ff6a10" />
<circle cx="1817.06" cy="1675.05" r="3.6" fill="#ff6a10" />
<circle cx="1806.89" cy="1683.44" r="3.6" fill="#ff6a10" />
<circle cx="1890.84" cy="1677.59" r="3.6" fill="#108a10" />
<circle cx="1881.42" cy="1687.77" r="3.6" fill="#108a10" />
<circle cx="1901.01" cy="1687.77" r="3.6" fill="#108a10" />
<circle cx="1890.84" cy="1697.94" r="3.6" fill="#108a10" />
<circle cx="1897.2" cy="1705.57" r="3.6" fill="#108a10" />
<circle cx="1886.51" cy="1710.15" r="3.6" fill="#108a10" />
<line x1="1653.7" y1="1610.53" x2="1653.7" y2="1440.1" stroke="#1010c8" stroke-width="2.6" />
<line x1="1640.7" y1="1610.53" x2="1666.7" y2="1610.53" stroke="#1010c8" stroke-width="2.6" />
<line x1="1640.7" y1="1440.1" x2="1666.7" y2="1440.1" stroke="#1010c8" stroke-width="2.6" />
<line x1="1732.6" y1="1691.24" x2="1732.6" y2="1661.19" stroke="#a01010" stroke-width="2.6" />
<line x1="1719.6" y1="1691.24" x2="1745.6" y2="1691.24" stroke="#a01010" stroke-width="2.6" />
<line x1="1719.6" y1="1661.19" x2="1745.6" y2="1661.19" stroke="#a01010" stroke-width="2.6" />
<line x1="1812" y1="1678.79" x2="1812" y2="1590.36" stroke="#ff6a10" stroke-width="2.6" />
<line x1="1799" y1="1678.79" x2="1825" y2="1678.79" stroke="#ff6a10" stroke-width="2.6" />
<line x1="1799" y1="1590.36" x2="1825" y2="1590.36" stroke="#ff6a10" stroke-width="2.6" />
<line x1="1890.8" y1="1704.98" x2="1890.8" y2="1681.37" stroke="#108a10" stroke-width="2.6" />
<line x1="1877.8" y1="1704.98" x2="1903.8" y2="1704.98" stroke="#108a10" stroke-width="2.6" />
<line x1="1877.8" y1="1681.37" x2="1903.8" y2="1681.37" stroke="#108a10" stroke-width="2.6" />
<text x="1715.3" y="1648" font-size="27" fill="#1010c8" textLength="38" lengthAdjust="spacingAndGlyphs" font-weight="bold">***</text>
<text x="1791.5" y="1591" font-size="27" fill="#1010c8" textLength="38" lengthAdjust="spacingAndGlyphs" font-weight="bold">***</text>
<text x="1871.5" y="1675" font-size="27" fill="#1010c8" textLength="38" lengthAdjust="spacingAndGlyphs" font-weight="bold">***</text>
<circle cx="1744.6" cy="1386.3" r="3.6" fill="#1010c8" />
<text x="1759.8" y="1396.8" font-size="30.5" fill="#1a1a90" textLength="96.5" lengthAdjust="spacingAndGlyphs">vehicle</text>
<circle cx="1744.6" cy="1419.2" r="3.6" fill="#a01010" />
<text x="1759.8" y="1429.7" font-size="30.5" fill="#b01020" textLength="138.5" lengthAdjust="spacingAndGlyphs">trametinib</text>
<circle cx="1744.6" cy="1452.1" r="3.6" fill="#ff6a10" />
<text x="1759.8" y="1462.6" font-size="30.5" fill="#f06020" textLength="135" lengthAdjust="spacingAndGlyphs">pyrvinium</text>
<circle cx="1744.6" cy="1485" r="3.6" fill="#108a10" />
<text x="1759.8" y="1495.5" font-size="30.5" fill="#106030" textLength="94.3" lengthAdjust="spacingAndGlyphs">combo</text>
<text transform="translate(1528,1629.3) rotate(-90)" x="0" y="0" font-size="28" textLength="151.4" lengthAdjust="spacingAndGlyphs">AML burden</text>
<text transform="translate(1559.5,1670) rotate(-90)" x="0" y="0" font-size="28" textLength="232.8" lengthAdjust="spacingAndGlyphs">hCD33+ cells x 10⁶</text>
</svg>
</body></html>
